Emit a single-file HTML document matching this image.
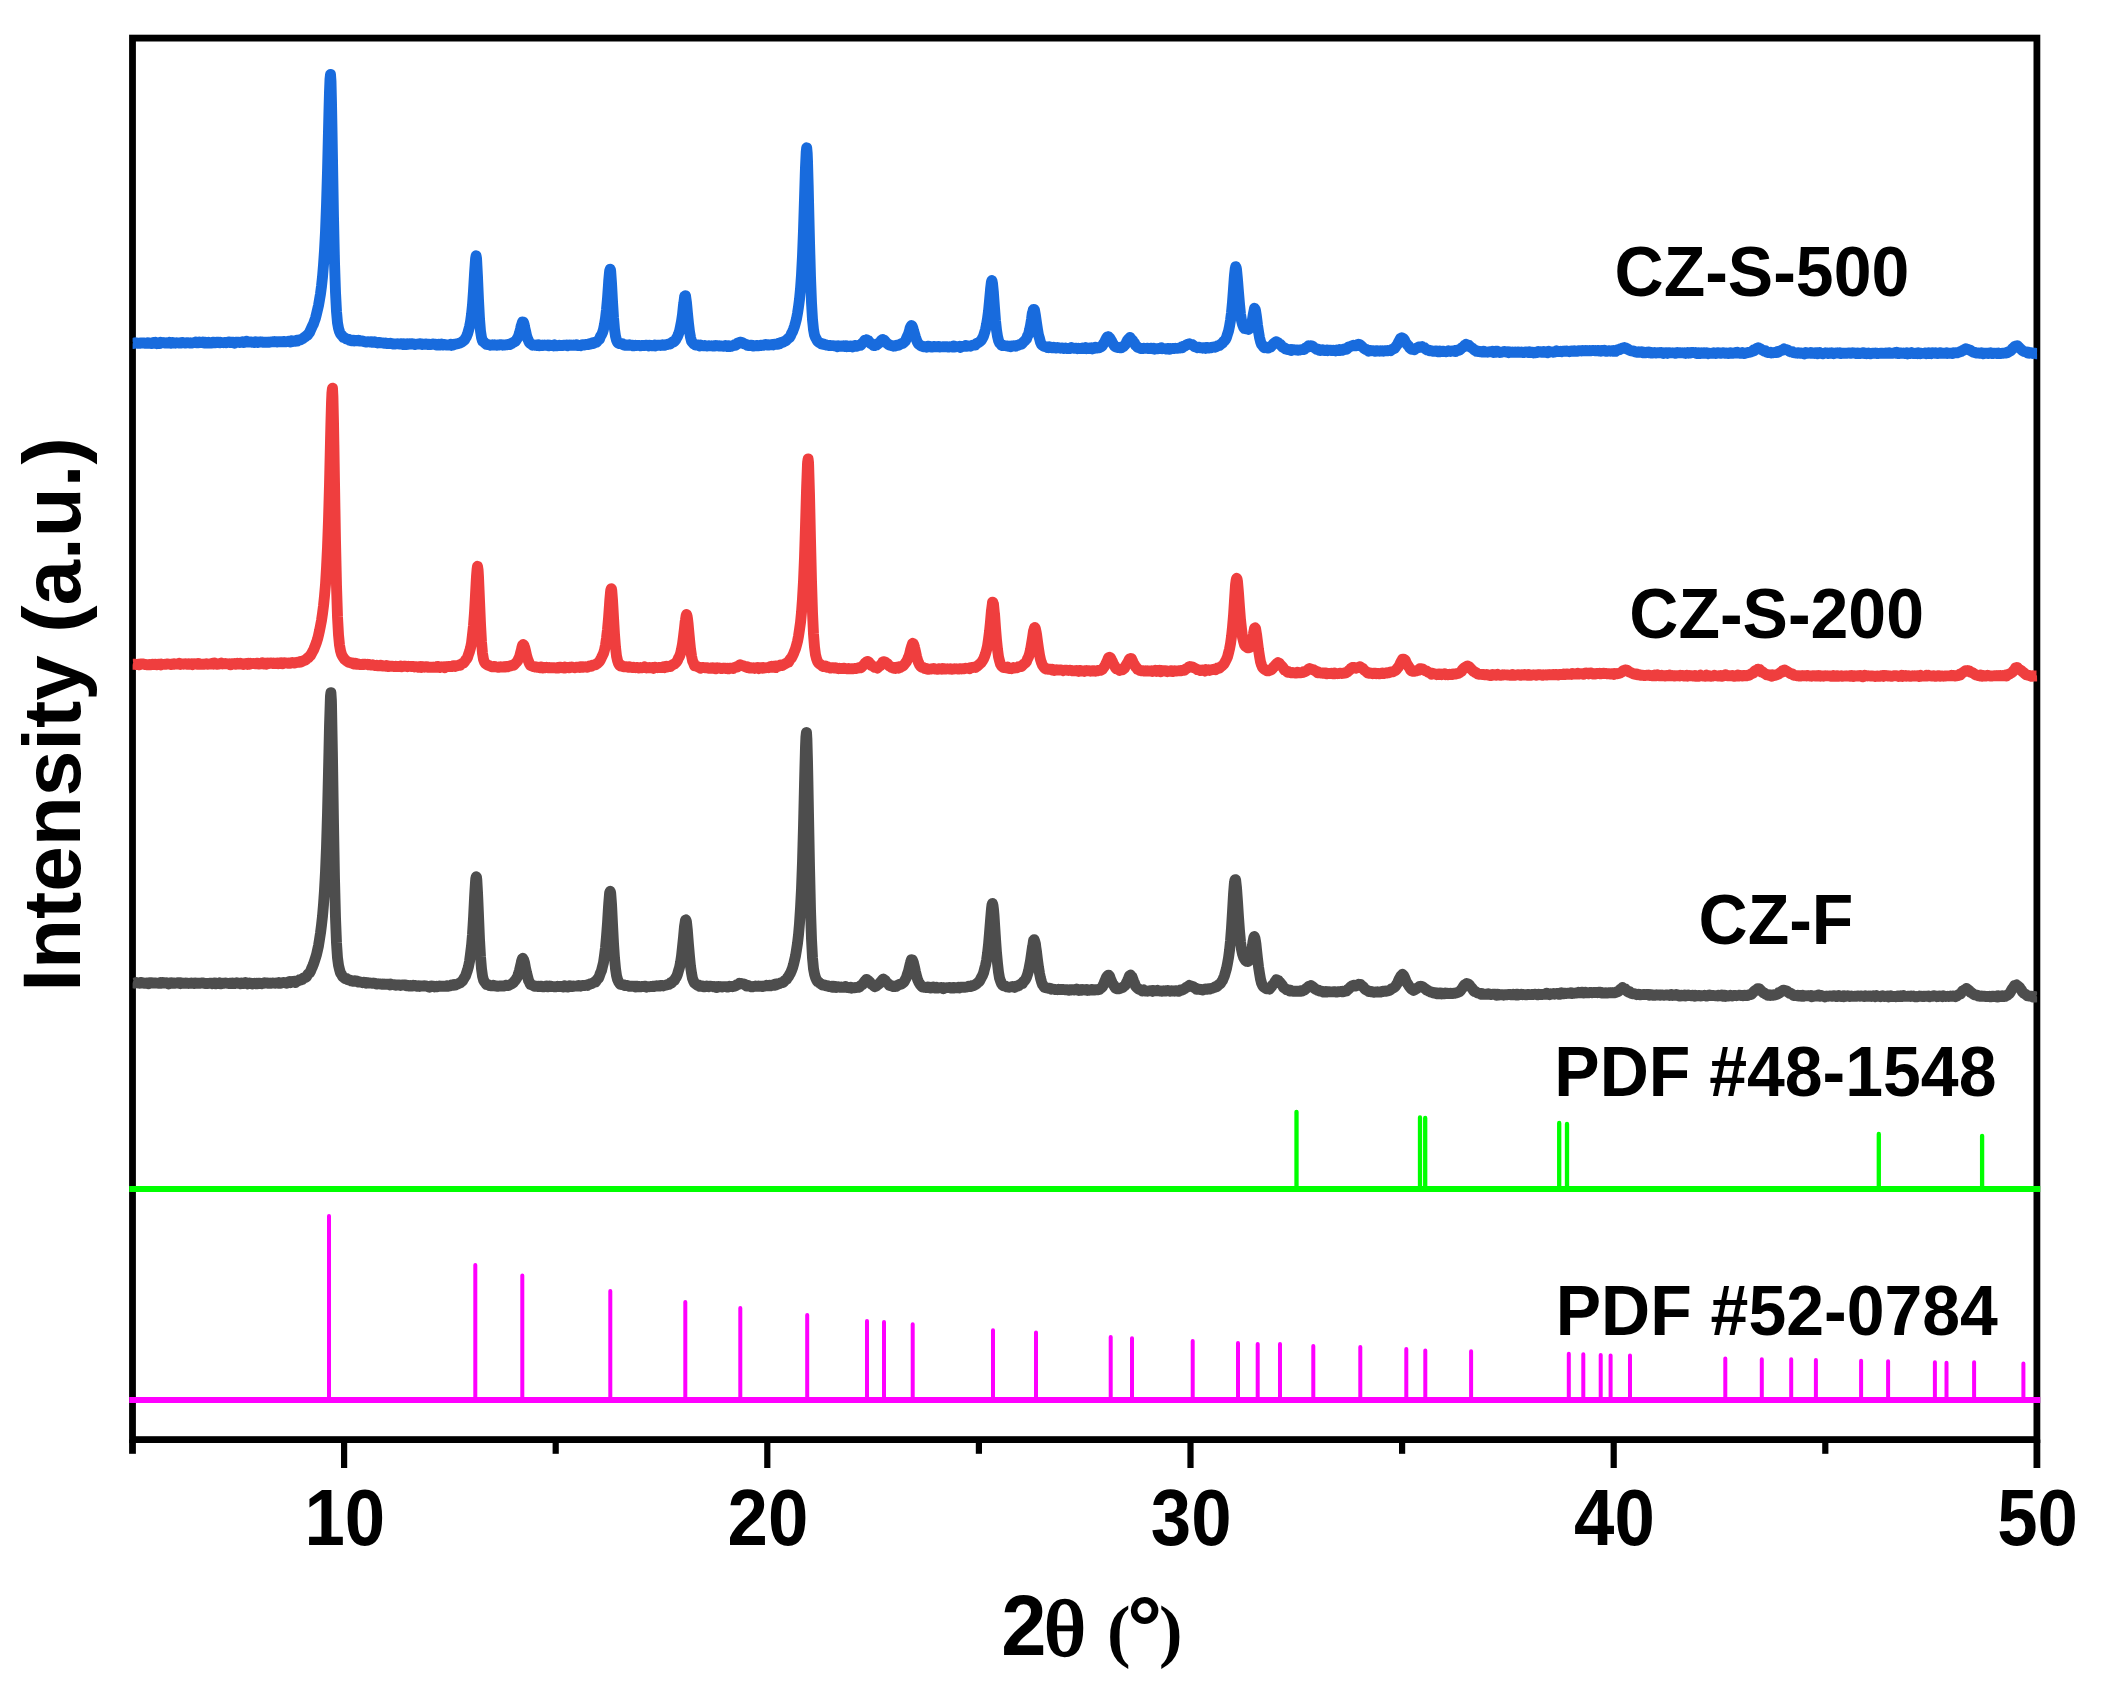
<!DOCTYPE html>
<html lang="en"><head><meta charset="utf-8"><title>XRD patterns</title>
<style>html,body{margin:0;padding:0;background:#fff}svg{display:block}text{font-family:"Liberation Sans",sans-serif;font-weight:bold;fill:#000}.tk{font-size:80px;text-anchor:middle}.lb{font-size:71.2px}.ay{font-size:81.8px}.two{font-size:84.5px}.th{font-family:"Liberation Serif","DejaVu Serif",serif;font-size:78.5px;font-weight:normal;stroke:#000;stroke-width:2.3px;stroke-linejoin:round}.pa{font-family:"Liberation Serif","DejaVu Serif",serif;font-size:70.6px;font-weight:bold}.dg{font-size:87.9px}.sp{font-size:40px}</style></head><body>
<svg width="2101" height="1697" viewBox="0 0 2101 1697" role="img" aria-label="XRD patterns of CZ-S-500, CZ-S-200 and CZ-F with reference PDF cards">
<rect x="0" y="0" width="2101" height="1697" fill="#fff"/>
<g fill="none" stroke="#000" stroke-width="6.8" stroke-linecap="butt">
<rect x="132.5" y="38.1" width="1904.4" height="1401.5"/>
</g>
<g stroke="#000" stroke-width="6.2" stroke-linecap="butt">
<line x1="132.5" y1="1439.6" x2="132.5" y2="1453.8" stroke-width="6.8"/>
<line x1="344.1" y1="1439.6" x2="344.1" y2="1468.0"/>
<line x1="555.7" y1="1439.6" x2="555.7" y2="1453.8"/>
<line x1="767.3" y1="1439.6" x2="767.3" y2="1468.0"/>
<line x1="978.9" y1="1439.6" x2="978.9" y2="1453.8"/>
<line x1="1190.5" y1="1439.6" x2="1190.5" y2="1468.0"/>
<line x1="1402.1" y1="1439.6" x2="1402.1" y2="1453.8"/>
<line x1="1613.7" y1="1439.6" x2="1613.7" y2="1468.0"/>
<line x1="1825.3" y1="1439.6" x2="1825.3" y2="1453.8"/>
<line x1="2036.9" y1="1439.6" x2="2036.9" y2="1468.0" stroke-width="6.8"/>
</g>
<g stroke="#ff00ff" fill="none">
<path d="M329.0 1399.9V1215.9M475.3 1399.9V1264.9M522.3 1399.9V1275.6M610.3 1399.9V1290.9M685.3 1399.9V1301.9M740.3 1399.9V1307.9M807.2 1399.9V1315.1M867.0 1399.9V1320.9M884.0 1399.9V1321.9M912.7 1399.9V1324.3M993.0 1399.9V1330.3M1036.0 1399.9V1332.6M1110.7 1399.9V1336.9M1132.0 1399.9V1338.3M1192.7 1399.9V1340.9M1238.0 1399.9V1342.9M1257.7 1399.9V1343.9M1280.0 1399.9V1343.9M1313.3 1399.9V1345.9M1360.3 1399.9V1346.9M1406.3 1399.9V1348.9M1425.3 1399.9V1350.6M1471.1 1399.9V1351.2M1568.8 1399.9V1353.7M1583.3 1399.9V1354.3M1600.7 1399.9V1354.9M1610.6 1399.9V1355.5M1630.0 1399.9V1355.5M1725.3 1399.9V1358.4M1761.8 1399.9V1359.3M1791.2 1399.9V1359.3M1815.9 1399.9V1360.1M1861.1 1399.9V1360.7M1888.1 1399.9V1361.3M1934.9 1399.9V1362.2M1946.5 1399.9V1362.7M1974.1 1399.9V1362.2M2023.4 1399.9V1363.6" stroke-width="4.0" stroke-linecap="round"/>
<line x1="129.2" y1="1399.9" x2="2040.2" y2="1399.9" stroke-width="6.0"/>
</g>
<g stroke="#00ff00" fill="none">
<path d="M1296.5 1188.9V1111.8M1420.0 1188.9V1117.5M1425.2 1188.9V1118.0M1559.2 1188.9V1123.0M1567.0 1188.9V1124.0M1878.8 1188.9V1134.0M1982.1 1188.9V1135.8" stroke-width="4.3" stroke-linecap="round"/>
<line x1="129.2" y1="1188.9" x2="2040.2" y2="1188.9" stroke-width="6.0"/>
</g>
<defs><clipPath id="cp"><rect x="132.6" y="40" width="1904.5" height="1000"/></clipPath></defs>
<g clip-path="url(#cp)">
<path d="M132.5 982.5L133.5 983.0L134.5 983.2L135.5 982.8L136.5 982.5L137.5 982.9L138.5 983.0L139.5 983.2L140.5 982.5L141.5 982.5L142.5 983.1L143.5 983.1L144.5 983.4L145.5 983.2L146.5 982.9L147.5 982.9L148.5 983.7L149.5 982.9L150.5 982.7L151.5 982.6L152.5 983.0L153.5 983.0L154.5 982.9L155.5 983.0L156.5 983.1L157.5 983.2L158.5 983.3L159.5 983.1L160.5 982.5L161.5 983.2L162.5 982.6L163.5 983.0L164.5 982.6L165.5 983.0L166.5 982.8L167.5 983.1L168.5 984.0L169.5 983.0L170.5 983.3L171.5 982.7L172.5 983.0L173.5 983.3L174.5 983.0L175.5 983.2L176.5 983.1L177.5 982.8L178.5 983.2L179.5 982.8L180.5 983.6L181.5 982.9L182.5 983.3L183.5 983.1L184.5 983.4L185.5 982.9L186.5 983.4L187.5 983.1L188.5 983.5L189.5 983.3L190.5 983.2L191.5 982.9L192.5 983.4L193.5 983.3L194.5 983.6L195.5 983.0L196.5 983.3L197.5 983.3L198.5 983.2L199.5 983.2L200.5 983.2L201.5 983.0L202.5 982.9L203.5 983.1L204.5 983.3L205.5 983.6L206.5 983.5L207.5 983.5L208.5 983.4L209.5 983.4L210.5 983.2L211.5 983.4L212.5 983.7L213.5 983.1L214.5 983.0L215.5 983.8L216.5 983.3L217.5 983.5L218.5 983.5L219.5 982.9L220.5 983.9L221.5 983.7L222.5 983.3L223.5 983.4L224.5 983.2L225.5 982.9L226.5 983.2L227.5 983.3L228.5 983.5L229.5 983.4L230.5 983.2L231.5 983.6L232.5 983.0L233.5 983.5L234.5 983.6L235.5 983.1L236.5 982.7L237.5 983.0L238.5 983.3L239.5 983.4L240.5 983.7L241.5 983.0L242.5 983.3L243.5 983.5L244.5 983.2L245.5 982.6L246.5 983.5L247.5 984.0L248.5 983.6L249.5 983.0L250.5 983.2L251.5 983.3L252.5 984.0L253.5 983.5L254.5 983.3L255.5 983.7L256.5 983.2L257.5 983.8L258.5 983.1L259.5 983.1L260.5 983.5L261.5 983.7L262.5 983.4L263.5 983.3L264.5 982.7L265.5 983.0L266.5 983.0L267.5 983.0L268.5 983.4L269.5 983.1L270.5 983.4L271.5 983.2L272.5 983.0L273.5 983.1L274.5 983.2L275.5 983.3L276.5 982.9L277.5 982.9L278.5 982.6L279.5 983.4L280.5 983.3L281.5 982.8L282.5 982.7L283.5 982.4L284.5 982.8L285.5 982.7L286.5 983.2L287.5 982.5L288.5 982.1L289.5 981.5L290.5 982.6L291.5 982.1L292.5 981.4L293.5 981.8L294.5 981.1L295.5 982.5L296.5 981.5L297.5 981.1L298.5 980.7L299.5 979.8L300.5 980.0L301.5 979.2L302.5 979.4L303.5 978.0L304.5 977.7L305.5 977.6L306.5 976.8L307.5 974.9L308.5 973.6L309.5 972.9L310.5 971.2L311.5 968.7L312.5 966.6L313.5 964.0L314.5 961.0L315.5 957.8L316.5 954.6L317.5 950.2L318.5 945.7L319.5 939.5L320.5 933.0L321.5 925.1L322.5 916.1L323.5 904.5L324.5 890.0L325.5 871.9L326.5 847.2L327.5 813.7L328.5 771.7L329.4 730.7L329.5 726.1L330.4 697.8L330.5 695.9L330.9 692.6L331.4 700.4L331.5 703.8L332.4 752.0L332.5 758.5L333.5 823.2L334.5 878.6L335.5 917.7L336.5 943.0L337.5 957.8L338.5 965.3L339.5 969.5L340.5 973.0L341.5 974.4L342.5 976.4L343.5 977.2L344.5 978.2L345.5 978.8L346.5 978.5L347.5 979.8L348.5 979.7L349.5 980.0L350.5 980.4L351.5 981.0L352.5 981.2L353.5 981.4L354.5 980.8L355.5 981.3L356.5 980.9L357.5 981.7L358.5 982.1L359.5 981.8L360.5 982.2L361.5 982.3L362.5 982.7L363.5 982.2L364.5 982.3L365.5 982.4L366.5 983.2L367.5 983.1L368.5 982.8L369.5 983.0L370.5 983.1L371.5 983.2L372.5 983.2L373.5 983.3L374.5 983.1L375.5 983.4L376.5 984.1L377.5 983.9L378.5 983.8L379.5 983.9L380.5 984.0L381.5 984.2L382.5 984.0L383.5 984.3L384.5 984.4L385.5 984.2L386.5 984.2L387.5 984.2L388.5 984.2L389.5 984.9L390.5 984.0L391.5 984.7L392.5 984.6L393.5 984.7L394.5 984.9L395.5 985.3L396.5 985.0L397.5 985.0L398.5 984.9L399.5 985.1L400.5 985.5L401.5 985.1L402.5 985.0L403.5 985.0L404.5 985.1L405.5 985.0L406.5 985.8L407.5 985.6L408.5 985.5L409.5 986.1L410.5 985.5L411.5 985.9L412.5 986.0L413.5 985.3L414.5 985.4L415.5 985.6L416.5 986.2L417.5 986.4L418.5 985.7L419.5 986.4L420.5 986.0L421.5 986.0L422.5 986.0L423.5 986.1L424.5 985.7L425.5 986.0L426.5 986.0L427.5 986.5L428.5 987.0L429.5 987.2L430.5 986.3L431.5 985.9L432.5 986.3L433.5 986.1L434.5 987.0L435.5 986.6L436.5 986.2L437.5 986.7L438.5 986.5L439.5 985.9L440.5 986.2L441.5 986.3L442.5 986.3L443.5 986.3L444.5 986.1L445.5 986.2L446.5 985.9L447.5 985.7L448.5 986.3L449.5 985.9L450.5 985.8L451.5 985.0L452.5 985.3L453.5 985.4L454.5 984.5L455.5 985.0L456.5 984.3L457.5 984.2L458.5 983.6L459.5 983.1L460.5 982.8L461.5 981.5L462.5 981.1L463.5 979.1L464.5 977.5L465.5 976.0L466.5 973.0L467.5 970.1L468.5 966.5L469.5 961.5L470.5 954.0L471.5 945.9L472.5 934.4L473.5 918.3L474.5 898.9L474.8 893.1L475.5 882.0L475.8 878.6L476.3 876.7L476.5 877.2L476.8 879.6L477.5 892.0L477.8 898.4L478.5 915.3L479.5 939.2L480.5 956.6L481.5 968.8L482.5 976.1L483.5 980.0L484.5 981.8L485.5 983.2L486.5 984.6L487.5 984.3L488.5 984.8L489.5 985.5L490.5 985.6L491.5 985.8L492.5 985.9L493.5 985.2L494.5 985.6L495.5 986.0L496.5 986.1L497.5 986.4L498.5 986.2L499.5 985.9L500.5 986.0L501.5 985.9L502.5 986.0L503.5 986.1L504.5 985.7L505.5 985.4L506.5 985.2L507.5 985.6L508.5 985.4L509.5 985.0L510.5 984.5L511.5 984.0L512.5 983.2L513.5 982.6L514.5 981.1L515.5 980.1L516.5 978.4L517.5 976.8L518.5 973.7L519.5 970.3L520.5 966.1L521.3 962.7L521.5 961.3L522.3 958.8L522.5 959.0L522.8 958.3L523.3 959.2L523.5 959.3L524.3 962.1L524.5 962.5L525.5 968.0L526.5 972.4L527.5 976.3L528.5 980.4L529.5 982.3L530.5 984.7L531.5 984.8L532.5 985.2L533.5 985.7L534.5 986.4L535.5 986.1L536.5 986.3L537.5 986.5L538.5 986.1L539.5 986.5L540.5 986.3L541.5 986.1L542.5 986.8L543.5 986.8L544.5 986.6L545.5 986.3L546.5 986.0L547.5 986.8L548.5 986.6L549.5 986.1L550.5 986.6L551.5 986.2L552.5 986.6L553.5 986.7L554.5 986.7L555.5 986.7L556.5 986.7L557.5 986.3L558.5 986.5L559.5 986.4L560.5 986.5L561.5 986.6L562.5 986.7L563.5 987.0L564.5 985.7L565.5 986.6L566.5 986.4L567.5 987.1L568.5 986.7L569.5 985.9L570.5 986.5L571.5 986.2L572.5 986.6L573.5 985.9L574.5 986.2L575.5 986.1L576.5 986.1L577.5 985.9L578.5 985.4L579.5 986.1L580.5 986.2L581.5 985.7L582.5 985.4L583.5 985.6L584.5 985.6L585.5 985.3L586.5 985.1L587.5 985.4L588.5 984.4L589.5 984.3L590.5 983.6L591.5 983.6L592.5 983.2L593.5 982.6L594.5 982.0L595.5 982.0L596.5 980.4L597.5 979.1L598.5 978.3L599.5 975.7L600.5 972.9L601.5 970.6L602.5 966.5L603.5 962.6L604.5 955.5L605.5 947.6L606.5 936.5L607.5 923.1L608.5 906.9L608.7 904.1L609.5 894.2L609.7 892.5L610.2 891.3L610.5 892.1L610.7 893.2L611.5 903.8L611.7 907.4L612.5 923.7L613.5 943.3L614.5 957.8L615.5 968.6L616.5 975.5L617.5 979.4L618.5 981.7L619.5 983.2L620.5 984.4L621.5 984.5L622.5 984.7L623.5 984.7L624.5 985.5L625.5 985.6L626.5 985.4L627.5 985.6L628.5 986.0L629.5 986.4L630.5 986.3L631.5 986.3L632.5 986.2L633.5 986.4L634.5 986.3L635.5 987.0L636.5 986.1L637.5 986.3L638.5 986.8L639.5 986.4L640.5 986.9L641.5 986.5L642.5 986.5L643.5 986.4L644.5 986.1L645.5 986.2L646.5 987.1L647.5 986.6L648.5 986.6L649.5 986.7L650.5 986.5L651.5 986.6L652.5 986.2L653.5 986.2L654.5 986.5L655.5 986.1L656.5 985.7L657.5 986.0L658.5 985.8L659.5 986.1L660.5 985.6L661.5 985.4L662.5 985.5L663.5 985.9L664.5 985.3L665.5 985.2L666.5 984.9L667.5 984.7L668.5 984.5L669.5 984.2L670.5 982.8L671.5 983.0L672.5 981.8L673.5 980.7L674.5 980.4L675.5 978.1L676.5 976.9L677.5 974.3L678.5 970.8L679.5 967.5L680.5 962.7L681.5 956.0L682.5 946.9L683.5 937.2L684.3 928.6L684.5 926.4L685.3 921.5L685.5 920.2L685.8 919.8L686.3 921.0L686.5 922.0L687.3 929.5L687.5 932.1L688.5 944.7L689.5 956.3L690.5 966.2L691.5 973.0L692.5 978.4L693.5 981.0L694.5 983.0L695.5 983.8L696.5 984.5L697.5 985.2L698.5 985.0L699.5 986.4L700.5 985.8L701.5 985.9L702.5 985.9L703.5 986.7L704.5 986.7L705.5 986.4L706.5 986.0L707.5 986.3L708.5 986.7L709.5 986.4L710.5 986.2L711.5 986.3L712.5 986.4L713.5 986.7L714.5 986.5L715.5 986.7L716.5 987.5L717.5 987.2L718.5 986.4L719.5 986.8L720.5 986.8L721.5 986.7L722.5 987.0L723.5 986.6L724.5 986.6L725.5 986.6L726.5 986.7L727.5 987.1L728.5 986.9L729.5 986.3L730.5 986.5L731.5 986.4L732.5 986.8L733.5 986.4L734.5 986.4L735.5 985.8L736.5 984.8L737.5 984.9L738.5 984.3L739.0 984.1L739.5 983.4L740.0 983.6L740.5 983.4L741.0 983.4L741.5 983.8L742.0 983.9L742.5 983.8L743.5 983.9L744.5 984.2L745.5 985.2L746.5 986.0L747.5 986.0L748.5 985.5L749.5 986.0L750.5 986.5L751.5 986.9L752.5 986.8L753.5 986.5L754.5 986.4L755.5 986.0L756.5 986.2L757.5 986.2L758.5 986.0L759.5 986.2L760.5 986.1L761.5 986.2L762.5 986.5L763.5 986.2L764.5 986.1L765.5 985.8L766.5 985.3L767.5 985.7L768.5 985.8L769.5 985.2L770.5 985.8L771.5 985.2L772.5 985.2L773.5 984.9L774.5 984.4L775.5 985.2L776.5 984.0L777.5 984.4L778.5 983.7L779.5 983.6L780.5 982.9L781.5 982.6L782.5 982.5L783.5 982.2L784.5 980.7L785.5 980.1L786.5 979.4L787.5 977.7L788.5 976.7L789.5 974.6L790.5 973.0L791.5 970.6L792.5 968.1L793.5 964.6L794.5 960.2L795.5 956.0L796.5 949.8L797.5 943.4L798.5 934.9L799.5 923.4L800.5 908.2L801.5 889.0L802.5 861.9L803.5 826.2L804.5 784.5L804.9 768.3L805.5 746.6L805.9 737.2L806.4 732.5L806.5 732.4L806.9 738.8L807.5 760.8L807.9 780.6L808.5 813.4L809.5 865.8L810.5 909.4L811.5 939.1L812.5 957.9L813.5 968.7L814.5 974.1L815.5 977.5L816.5 979.8L817.5 981.6L818.5 981.7L819.5 983.0L820.5 983.5L821.5 984.4L822.5 985.1L823.5 985.0L824.5 985.0L825.5 985.6L826.5 985.8L827.5 985.6L828.5 986.5L829.5 986.2L830.5 986.7L831.5 986.2L832.5 987.1L833.5 986.4L834.5 987.2L835.5 986.4L836.5 987.5L837.5 987.0L838.5 986.7L839.5 987.1L840.5 987.3L841.5 987.0L842.5 987.2L843.5 987.4L844.5 987.3L845.5 986.5L846.5 987.3L847.5 987.6L848.5 987.5L849.5 987.8L850.5 987.3L851.5 988.2L852.5 987.7L853.5 987.6L854.5 987.8L855.5 987.7L856.5 987.4L857.5 987.1L858.5 987.4L859.5 986.9L860.5 985.6L861.5 985.1L862.5 984.5L863.5 983.0L864.5 981.6L865.3 980.7L865.5 980.4L866.3 980.2L866.5 979.5L866.8 979.5L867.3 979.8L867.5 980.0L868.3 980.6L868.5 981.0L869.5 981.5L870.5 983.2L871.5 984.1L872.5 984.6L873.5 985.6L874.5 986.7L875.5 986.4L876.5 985.9L877.5 984.8L878.5 984.4L879.5 983.3L880.5 982.1L881.5 981.4L881.8 980.6L882.5 979.8L882.8 979.3L883.3 979.1L883.5 979.4L883.8 979.4L884.5 980.8L884.8 980.1L885.5 980.7L886.5 982.4L887.5 983.3L888.5 983.9L889.5 985.5L890.5 985.7L891.5 985.7L892.5 986.4L893.5 986.6L894.5 986.3L895.5 986.5L896.5 986.3L897.5 985.5L898.5 984.8L899.5 984.3L900.5 984.4L901.5 984.1L902.5 983.3L903.5 982.4L904.5 981.2L905.5 979.1L906.5 977.3L907.5 973.8L908.5 971.0L909.5 966.8L910.4 962.9L910.5 962.4L911.4 959.7L911.5 959.9L911.9 960.0L912.4 959.9L912.5 960.3L913.4 962.5L913.5 963.1L914.5 967.0L915.5 971.9L916.5 975.8L917.5 979.4L918.5 981.7L919.5 983.4L920.5 985.0L921.5 986.3L922.5 987.0L923.5 986.8L924.5 987.3L925.5 987.5L926.5 987.5L927.5 987.0L928.5 987.6L929.5 987.3L930.5 988.0L931.5 987.9L932.5 987.9L933.5 987.0L934.5 988.0L935.5 988.0L936.5 987.4L937.5 988.1L938.5 987.9L939.5 987.8L940.5 987.6L941.5 987.5L942.5 987.7L943.5 988.8L944.5 987.9L945.5 987.9L946.5 987.6L947.5 987.6L948.5 987.6L949.5 987.5L950.5 988.0L951.5 987.7L952.5 988.0L953.5 987.4L954.5 988.0L955.5 987.6L956.5 987.8L957.5 987.6L958.5 987.3L959.5 987.9L960.5 987.3L961.5 987.3L962.5 987.1L963.5 987.3L964.5 987.1L965.5 987.2L966.5 987.1L967.5 986.6L968.5 986.3L969.5 986.6L970.5 986.6L971.5 986.3L972.5 985.4L973.5 985.6L974.5 985.1L975.5 984.5L976.5 983.9L977.5 982.9L978.5 982.1L979.5 981.2L980.5 979.3L981.5 977.3L982.5 975.6L983.5 973.1L984.5 969.2L985.5 965.4L986.5 960.5L987.5 953.5L988.5 944.6L989.5 932.9L990.5 920.5L991.0 914.5L991.5 908.6L992.0 904.8L992.5 903.4L993.0 905.5L993.5 909.4L994.0 915.2L994.5 923.1L995.5 938.5L996.5 952.6L997.5 963.3L998.5 972.1L999.5 978.0L1000.5 981.0L1001.5 983.7L1002.5 985.1L1003.5 985.8L1004.5 985.7L1005.5 986.1L1006.5 986.8L1007.5 987.0L1008.5 987.2L1009.5 987.3L1010.5 986.9L1011.5 986.9L1012.5 986.4L1013.5 987.1L1014.5 987.4L1015.5 986.4L1016.5 986.2L1017.5 986.2L1018.5 985.8L1019.5 984.8L1020.5 984.4L1021.5 983.5L1022.5 983.6L1023.5 981.6L1024.5 980.8L1025.5 979.4L1026.5 977.3L1027.5 974.5L1028.5 971.2L1029.5 966.0L1030.5 960.7L1031.5 953.8L1032.5 946.7L1032.7 946.2L1033.5 940.8L1033.7 940.8L1034.2 939.6L1034.5 940.7L1034.7 941.1L1035.5 944.2L1035.7 946.2L1036.5 951.6L1037.5 960.0L1038.5 967.2L1039.5 973.2L1040.5 978.2L1041.5 981.8L1042.5 984.5L1043.5 985.9L1044.5 987.6L1045.5 987.5L1046.5 987.8L1047.5 988.0L1048.5 988.3L1049.5 988.2L1050.5 988.5L1051.5 989.2L1052.5 989.1L1053.5 989.1L1054.5 989.4L1055.5 989.6L1056.5 989.6L1057.5 989.7L1058.5 989.3L1059.5 989.5L1060.5 989.4L1061.5 989.6L1062.5 989.4L1063.5 989.6L1064.5 989.7L1065.5 989.7L1066.5 989.7L1067.5 989.7L1068.5 990.3L1069.5 989.8L1070.5 989.6L1071.5 990.0L1072.5 989.6L1073.5 989.7L1074.5 990.0L1075.5 989.5L1076.5 989.1L1077.5 990.1L1078.5 990.4L1079.5 989.6L1080.5 989.8L1081.5 990.3L1082.5 989.5L1083.5 989.8L1084.5 989.7L1085.5 990.0L1086.5 989.5L1087.5 990.4L1088.5 990.1L1089.5 990.2L1090.5 990.0L1091.5 989.4L1092.5 990.0L1093.5 989.6L1094.5 990.0L1095.5 989.7L1096.5 989.8L1097.5 989.7L1098.5 989.8L1099.5 989.4L1100.5 988.4L1101.5 987.7L1102.5 986.8L1103.5 984.6L1104.5 981.9L1105.5 979.5L1106.5 977.1L1106.6 977.3L1107.5 975.7L1107.6 975.7L1108.1 976.0L1108.5 975.1L1108.6 975.2L1109.5 976.2L1109.6 976.4L1110.5 979.0L1111.5 981.2L1112.5 983.9L1113.5 984.7L1114.5 986.5L1115.5 988.1L1116.5 988.6L1117.5 988.8L1118.5 988.9L1119.5 988.5L1120.5 988.3L1121.5 987.9L1122.5 987.6L1123.5 986.6L1124.5 985.9L1125.5 985.0L1126.5 982.6L1127.5 980.6L1128.5 978.4L1128.9 977.2L1129.5 975.9L1129.9 976.0L1130.4 975.3L1130.5 975.0L1130.9 975.7L1131.5 976.9L1131.9 976.6L1132.5 978.1L1133.5 980.9L1134.5 983.1L1135.5 986.0L1136.5 987.2L1137.5 988.1L1138.5 989.2L1139.5 989.4L1140.5 989.8L1141.5 990.2L1142.5 991.1L1143.5 989.8L1144.5 990.7L1145.5 991.0L1146.5 990.9L1147.5 991.3L1148.5 990.9L1149.5 990.8L1150.5 990.8L1151.5 990.6L1152.5 991.3L1153.5 990.5L1154.5 990.8L1155.5 990.7L1156.5 990.7L1157.5 990.3L1158.5 990.8L1159.5 991.0L1160.5 991.0L1161.5 991.2L1162.5 990.9L1163.5 990.8L1164.5 991.0L1165.5 991.1L1166.5 990.7L1167.5 990.5L1168.5 990.6L1169.5 991.2L1170.5 991.2L1171.5 990.6L1172.5 990.9L1173.5 991.1L1174.5 991.2L1175.5 990.6L1176.5 990.7L1177.5 991.1L1178.5 991.4L1179.5 991.0L1180.5 990.1L1181.5 990.4L1182.5 989.8L1183.5 989.4L1184.5 988.7L1185.5 988.0L1186.5 987.3L1187.5 987.0L1188.1 986.3L1188.5 986.0L1189.1 985.6L1189.5 985.3L1189.6 985.5L1190.1 986.0L1190.5 985.9L1191.1 986.5L1191.5 986.1L1192.5 986.6L1193.5 986.7L1194.5 988.0L1195.5 987.9L1196.5 989.3L1197.5 989.0L1198.5 989.4L1199.5 989.2L1200.5 989.5L1201.5 989.4L1202.5 990.0L1203.5 989.7L1204.5 989.2L1205.5 988.9L1206.5 989.3L1207.5 989.1L1208.5 988.8L1209.5 989.1L1210.5 988.7L1211.5 988.5L1212.5 988.1L1213.5 987.8L1214.5 987.4L1215.5 986.6L1216.5 986.8L1217.5 986.1L1218.5 984.7L1219.5 984.3L1220.5 983.5L1221.5 981.8L1222.5 980.5L1223.5 978.0L1224.5 975.6L1225.5 972.1L1226.5 968.5L1227.5 963.5L1228.5 957.9L1229.5 950.6L1230.5 940.7L1231.5 927.9L1232.5 911.7L1233.5 894.2L1233.6 893.1L1234.5 881.7L1234.6 881.5L1235.1 879.6L1235.5 879.9L1235.6 879.7L1236.5 887.6L1236.6 889.0L1237.5 901.4L1238.5 916.9L1239.5 930.6L1240.5 941.6L1241.5 949.3L1242.5 954.1L1243.5 957.1L1244.5 959.0L1245.5 960.5L1246.5 961.3L1247.5 961.5L1248.5 961.2L1249.5 960.1L1250.5 957.4L1251.5 952.6L1252.5 945.6L1252.9 942.0L1253.5 939.0L1253.9 937.3L1254.4 936.5L1254.5 936.9L1254.9 937.9L1255.5 941.0L1255.9 943.5L1256.5 949.2L1257.5 958.5L1258.5 966.7L1259.5 973.3L1260.5 979.2L1261.5 983.0L1262.5 985.3L1263.5 986.9L1264.5 987.6L1265.5 988.0L1266.5 988.7L1267.5 988.5L1268.5 988.6L1269.5 989.2L1270.5 987.8L1271.5 986.7L1272.5 985.0L1273.5 984.0L1274.5 982.7L1275.5 980.9L1275.7 980.9L1276.5 979.6L1276.7 980.4L1277.2 980.0L1277.5 980.4L1277.7 980.7L1278.5 980.7L1278.7 981.2L1279.5 981.8L1280.5 983.0L1281.5 984.3L1282.5 985.5L1283.5 987.4L1284.5 988.3L1285.5 988.5L1286.5 989.7L1287.5 989.7L1288.5 989.8L1289.5 990.9L1290.5 990.3L1291.5 991.1L1292.5 990.9L1293.5 991.2L1294.5 991.1L1295.5 991.3L1296.5 991.1L1297.5 991.2L1298.5 991.1L1299.5 991.3L1300.5 990.8L1301.5 991.2L1302.5 991.1L1303.5 990.3L1304.5 990.0L1305.5 989.1L1306.5 988.3L1307.5 987.6L1308.5 986.6L1308.9 986.2L1309.5 986.2L1309.9 986.1L1310.4 986.1L1310.5 986.2L1310.9 985.5L1311.5 986.7L1311.9 986.4L1312.5 986.5L1313.5 987.4L1314.5 988.4L1315.5 989.2L1316.5 989.5L1317.5 990.2L1318.5 990.1L1319.5 991.0L1320.5 991.1L1321.5 991.2L1322.5 991.7L1323.5 992.1L1324.5 991.9L1325.5 991.4L1326.5 992.1L1327.5 991.6L1328.5 991.7L1329.5 991.6L1330.5 991.9L1331.5 991.9L1332.5 991.8L1333.5 991.7L1334.5 991.8L1335.5 991.7L1336.5 992.1L1337.5 991.7L1338.5 991.8L1339.5 991.7L1340.5 991.5L1341.5 991.7L1342.5 991.2L1343.5 991.7L1344.5 991.5L1345.5 991.0L1346.5 991.0L1347.5 989.6L1348.5 989.2L1349.5 988.2L1350.5 986.9L1351.0 986.5L1351.5 986.4L1352.0 985.9L1352.5 985.8L1353.0 986.0L1353.5 985.7L1354.0 985.1L1354.5 985.5L1355.5 986.0L1356.5 985.7L1357.5 985.1L1358.5 984.5L1359.0 985.1L1359.5 985.3L1360.0 984.5L1360.5 984.4L1361.0 985.4L1361.5 985.4L1362.0 985.9L1362.5 986.3L1363.5 987.1L1364.5 988.5L1365.5 989.6L1366.5 990.2L1367.5 990.5L1368.5 991.5L1369.5 991.4L1370.5 991.8L1371.5 991.5L1372.5 992.1L1373.5 992.1L1374.5 992.3L1375.5 991.9L1376.5 992.1L1377.5 991.7L1378.5 992.1L1379.5 992.1L1380.5 992.1L1381.5 991.6L1382.5 991.2L1383.5 991.5L1384.5 991.3L1385.5 991.0L1386.5 991.2L1387.5 991.0L1388.5 990.6L1389.5 990.4L1390.5 989.8L1391.5 988.9L1392.5 988.4L1393.5 987.8L1394.5 987.2L1395.5 986.2L1396.5 984.5L1397.5 983.1L1398.5 980.5L1399.5 978.4L1400.5 976.7L1401.5 975.1L1402.0 975.1L1402.5 974.3L1403.5 975.4L1404.5 977.3L1405.5 979.9L1406.5 982.2L1407.5 983.6L1408.5 985.2L1409.5 986.7L1410.5 988.0L1411.5 989.3L1412.5 989.5L1413.5 990.4L1414.5 989.9L1415.5 989.1L1416.5 988.8L1417.5 987.9L1418.5 987.4L1419.4 986.9L1419.5 986.4L1420.4 986.5L1420.5 986.4L1420.9 986.2L1421.4 986.4L1421.5 986.5L1422.4 986.6L1422.5 986.6L1423.5 987.8L1424.5 988.2L1425.5 988.9L1426.5 990.0L1427.5 990.1L1428.5 991.2L1429.5 991.3L1430.5 992.0L1431.5 991.9L1432.5 992.5L1433.5 993.1L1434.5 992.9L1435.5 992.7L1436.5 993.7L1437.5 993.0L1438.5 993.7L1439.5 993.1L1440.5 992.9L1441.5 993.9L1442.5 993.2L1443.5 993.6L1444.5 993.8L1445.5 993.0L1446.5 993.5L1447.5 993.3L1448.5 993.6L1449.5 993.4L1450.5 993.1L1451.5 993.4L1452.5 993.6L1453.5 993.3L1454.5 993.4L1455.5 993.0L1456.5 992.9L1457.5 992.6L1458.5 992.0L1459.5 991.6L1460.5 990.6L1461.5 989.3L1462.5 988.0L1463.5 986.4L1464.5 984.7L1465.3 984.5L1465.5 984.6L1466.3 983.7L1466.5 983.5L1466.8 983.5L1467.3 984.0L1467.5 983.8L1468.3 983.9L1468.5 984.3L1469.5 985.1L1470.5 986.5L1471.5 987.6L1472.5 988.9L1473.5 990.7L1474.5 991.5L1475.5 991.5L1476.5 992.3L1477.5 992.9L1478.5 993.3L1479.5 993.3L1480.5 994.1L1481.5 993.5L1482.5 994.3L1483.5 994.4L1484.5 994.1L1485.5 994.1L1486.5 994.3L1487.5 994.4L1488.5 993.8L1489.5 994.0L1490.5 994.6L1491.5 994.4L1492.5 994.4L1493.5 994.2L1494.5 994.3L1495.5 994.3L1496.5 995.4L1497.5 994.2L1498.5 995.1L1499.5 994.8L1500.5 994.7L1501.5 994.7L1502.5 994.6L1503.5 995.2L1504.5 994.8L1505.5 994.7L1506.5 994.7L1507.5 994.8L1508.5 994.4L1509.5 994.6L1510.5 994.5L1511.5 994.9L1512.5 994.9L1513.5 994.2L1514.5 994.6L1515.5 995.0L1516.5 994.3L1517.5 994.3L1518.5 995.0L1519.5 994.6L1520.5 994.6L1521.5 994.3L1522.5 994.7L1523.5 994.5L1524.5 994.7L1525.5 994.8L1526.5 994.8L1527.5 994.5L1528.5 994.5L1529.5 994.6L1530.5 994.6L1531.5 994.6L1532.5 994.4L1533.5 994.5L1534.5 994.3L1535.5 994.3L1536.5 994.5L1537.5 994.8L1538.5 994.3L1539.5 994.6L1540.5 994.5L1541.5 994.4L1542.5 994.5L1543.5 994.1L1544.5 994.4L1545.5 994.3L1546.5 993.2L1547.5 994.3L1548.5 994.3L1549.5 994.7L1550.5 993.7L1551.5 994.0L1552.5 994.1L1553.5 993.6L1554.5 994.2L1555.5 994.0L1556.5 993.6L1557.5 993.4L1558.5 993.6L1559.5 994.4L1560.5 994.2L1561.5 992.8L1562.5 993.0L1563.5 993.7L1564.5 993.4L1565.5 993.2L1566.5 993.5L1567.5 993.3L1568.5 993.3L1569.5 993.3L1570.5 992.8L1571.5 993.5L1572.5 992.9L1573.5 993.4L1574.5 993.2L1575.5 993.0L1576.5 993.0L1577.5 992.9L1578.5 992.3L1579.5 992.7L1580.5 992.9L1581.5 992.3L1582.5 992.3L1583.5 993.0L1584.5 992.9L1585.5 992.2L1586.5 992.8L1587.5 992.6L1588.5 992.9L1589.5 992.5L1590.5 992.6L1591.5 992.4L1592.5 992.7L1593.5 992.6L1594.5 992.4L1595.5 992.5L1596.5 992.4L1597.5 992.8L1598.5 992.4L1599.5 992.2L1600.5 992.4L1601.5 993.0L1602.5 992.6L1603.5 993.0L1604.5 993.0L1605.5 992.7L1606.5 993.1L1607.5 993.0L1608.5 992.9L1609.5 992.7L1610.5 992.9L1611.5 992.6L1612.5 992.8L1613.5 992.7L1614.5 992.9L1615.5 992.6L1616.5 992.0L1617.5 991.9L1618.5 991.3L1619.5 990.2L1620.5 989.1L1621.5 988.8L1622.5 987.5L1623.0 988.0L1623.5 988.4L1624.5 989.3L1625.5 989.1L1626.5 990.5L1627.5 991.6L1628.5 992.2L1629.5 991.6L1630.5 993.1L1631.5 993.3L1632.5 993.9L1633.5 993.8L1634.5 993.8L1635.5 994.1L1636.5 994.7L1637.5 994.6L1638.5 994.3L1639.5 994.6L1640.5 994.8L1641.5 994.7L1642.5 994.6L1643.5 994.5L1644.5 994.5L1645.5 994.6L1646.5 994.6L1647.5 994.4L1648.5 994.4L1649.5 995.2L1650.5 994.6L1651.5 994.6L1652.5 995.0L1653.5 995.4L1654.5 995.4L1655.5 994.9L1656.5 994.8L1657.5 995.0L1658.5 994.9L1659.5 995.0L1660.5 995.3L1661.5 994.9L1662.5 995.0L1663.5 995.2L1664.5 995.2L1665.5 995.0L1666.5 995.1L1667.5 995.0L1668.5 995.1L1669.5 995.5L1670.5 995.3L1671.5 994.4L1672.5 995.5L1673.5 995.3L1674.5 995.1L1675.5 995.3L1676.5 994.5L1677.5 994.9L1678.5 995.8L1679.5 996.1L1680.5 996.1L1681.5 995.2L1682.5 995.5L1683.5 995.7L1684.5 995.1L1685.5 996.0L1686.5 995.3L1687.5 995.6L1688.5 995.1L1689.5 995.6L1690.5 995.5L1691.5 995.8L1692.5 995.2L1693.5 995.5L1694.5 996.1L1695.5 995.2L1696.5 995.6L1697.5 995.7L1698.5 995.4L1699.5 995.4L1700.5 996.0L1701.5 995.9L1702.5 995.7L1703.5 995.6L1704.5 995.2L1705.5 995.6L1706.5 996.1L1707.5 995.9L1708.5 995.2L1709.5 994.9L1710.5 995.4L1711.5 995.6L1712.5 995.4L1713.5 995.5L1714.5 995.7L1715.5 995.8L1716.5 995.6L1717.5 996.0L1718.5 995.2L1719.5 995.7L1720.5 995.7L1721.5 995.1L1722.5 996.0L1723.5 995.1L1724.5 995.2L1725.5 996.4L1726.5 996.0L1727.5 995.7L1728.5 996.0L1729.5 995.9L1730.5 995.3L1731.5 995.7L1732.5 996.0L1733.5 995.5L1734.5 995.6L1735.5 995.4L1736.5 995.8L1737.5 995.4L1738.5 995.4L1739.5 995.2L1740.5 995.3L1741.5 995.6L1742.5 995.7L1743.5 995.4L1744.5 995.1L1745.5 995.5L1746.5 995.4L1747.5 995.6L1748.5 994.9L1749.5 994.6L1750.5 994.5L1751.5 994.2L1752.5 993.0L1753.5 992.1L1754.5 991.0L1755.5 990.2L1756.4 989.9L1756.5 989.9L1757.4 989.6L1757.5 988.7L1757.9 989.4L1758.4 988.9L1758.5 989.4L1759.4 988.8L1759.5 989.6L1760.5 989.9L1761.5 991.3L1762.5 991.7L1763.5 992.9L1764.5 993.0L1765.5 994.3L1766.5 994.1L1767.5 995.2L1768.5 994.7L1769.5 994.8L1770.5 995.5L1771.5 995.1L1772.5 995.3L1773.5 994.8L1774.5 995.0L1775.5 994.9L1776.5 994.4L1777.5 994.2L1778.5 992.8L1779.5 993.1L1780.5 991.9L1781.5 991.7L1782.5 990.5L1783.5 990.1L1784.0 990.1L1784.5 990.4L1785.5 990.8L1786.5 990.9L1787.5 991.5L1788.5 992.5L1789.5 993.3L1790.5 993.1L1791.5 993.8L1792.5 994.4L1793.5 995.4L1794.5 995.6L1795.5 995.6L1796.5 995.7L1797.5 995.3L1798.5 996.0L1799.5 995.6L1800.5 995.5L1801.5 996.4L1802.5 995.4L1803.5 996.2L1804.5 995.9L1805.5 995.6L1806.5 995.9L1807.5 995.6L1808.5 995.9L1809.5 995.7L1810.5 995.5L1811.5 996.7L1812.5 995.8L1813.5 996.2L1814.5 995.9L1815.5 996.1L1816.5 995.5L1817.5 995.6L1818.5 994.9L1819.5 996.3L1820.5 996.1L1821.5 995.6L1822.5 996.2L1823.5 996.2L1824.5 996.9L1825.5 996.1L1826.5 996.3L1827.5 996.2L1828.5 996.2L1829.5 996.0L1830.5 995.9L1831.5 996.2L1832.5 996.4L1833.5 995.7L1834.5 995.7L1835.5 996.0L1836.5 996.6L1837.5 996.0L1838.5 995.5L1839.5 996.3L1840.5 996.3L1841.5 996.6L1842.5 996.1L1843.5 996.7L1844.5 995.8L1845.5 996.3L1846.5 996.1L1847.5 995.7L1848.5 996.0L1849.5 996.5L1850.5 996.4L1851.5 996.0L1852.5 996.4L1853.5 996.4L1854.5 996.4L1855.5 996.2L1856.5 996.2L1857.5 995.9L1858.5 996.1L1859.5 996.2L1860.5 995.9L1861.5 996.0L1862.5 996.2L1863.5 996.2L1864.5 996.5L1865.5 995.8L1866.5 996.0L1867.5 996.2L1868.5 996.0L1869.5 996.3L1870.5 996.0L1871.5 996.5L1872.5 996.1L1873.5 995.8L1874.5 996.4L1875.5 996.7L1876.5 995.6L1877.5 996.2L1878.5 996.2L1879.5 996.5L1880.5 996.7L1881.5 996.2L1882.5 995.7L1883.5 996.4L1884.5 996.5L1885.5 996.4L1886.5 996.3L1887.5 996.0L1888.5 997.0L1889.5 995.9L1890.5 995.8L1891.5 996.5L1892.5 996.3L1893.5 996.5L1894.5 996.4L1895.5 996.8L1896.5 996.7L1897.5 996.1L1898.5 996.6L1899.5 995.9L1900.5 995.8L1901.5 996.6L1902.5 996.2L1903.5 995.6L1904.5 996.3L1905.5 996.1L1906.5 996.4L1907.5 996.3L1908.5 996.1L1909.5 996.1L1910.5 996.5L1911.5 996.0L1912.5 996.4L1913.5 996.0L1914.5 996.5L1915.5 996.9L1916.5 996.5L1917.5 996.7L1918.5 996.5L1919.5 996.0L1920.5 996.2L1921.5 996.4L1922.5 996.5L1923.5 996.2L1924.5 996.5L1925.5 996.1L1926.5 996.4L1927.5 996.3L1928.5 996.0L1929.5 996.7L1930.5 996.4L1931.5 996.4L1932.5 996.3L1933.5 995.7L1934.5 995.9L1935.5 996.1L1936.5 996.7L1937.5 996.2L1938.5 996.5L1939.5 996.0L1940.5 996.1L1941.5 996.2L1942.5 996.7L1943.5 995.8L1944.5 996.3L1945.5 996.5L1946.5 996.4L1947.5 996.3L1948.5 996.5L1949.5 996.4L1950.5 996.0L1951.5 996.4L1952.5 996.0L1953.5 996.0L1954.5 996.5L1955.5 996.7L1956.5 996.2L1957.5 995.5L1958.5 994.7L1959.5 994.1L1960.5 994.0L1961.5 992.6L1962.5 991.0L1963.5 990.9L1964.5 989.7L1965.5 989.4L1966.0 989.1L1966.5 988.4L1967.5 989.2L1968.5 990.0L1969.5 990.9L1970.5 992.3L1971.5 992.5L1972.5 993.5L1973.5 994.2L1974.5 994.8L1975.5 994.9L1976.5 995.2L1977.5 995.1L1978.5 996.1L1979.5 996.1L1980.5 996.3L1981.5 996.0L1982.5 996.3L1983.5 996.1L1984.5 996.1L1985.5 996.5L1986.5 996.6L1987.5 996.6L1988.5 996.4L1989.5 996.3L1990.5 996.8L1991.5 996.8L1992.5 996.2L1993.5 996.1L1994.5 996.5L1995.5 996.5L1996.5 996.1L1997.5 997.1L1998.5 995.7L1999.5 996.1L2000.5 996.4L2001.5 996.6L2002.5 995.7L2003.5 996.0L2004.5 996.5L2005.5 996.3L2006.5 995.5L2007.5 995.1L2008.5 994.1L2009.5 993.6L2010.5 991.9L2011.5 990.1L2012.5 988.6L2013.5 987.4L2014.5 985.5L2014.7 986.0L2015.5 985.4L2015.7 985.2L2016.2 985.0L2016.5 985.2L2016.7 985.0L2017.5 985.6L2017.7 985.6L2018.5 986.6L2019.5 987.3L2020.5 988.8L2021.5 990.1L2022.5 992.0L2023.5 993.0L2024.5 993.6L2025.5 994.3L2026.5 995.0L2027.5 995.9L2028.5 995.9L2029.5 996.1L2030.5 996.1L2031.5 996.3L2032.5 996.9L2033.5 996.3L2034.5 996.4L2035.5 997.1L2036.5 996.8L2036.9 996.3" fill="none" stroke="#4d4d4d" stroke-width="10.9" stroke-linejoin="round" stroke-linecap="butt"/>
<path d="M132.5 663.9L133.5 664.4L134.5 664.2L135.5 664.2L136.5 664.6L137.5 664.3L138.5 664.2L139.5 664.8L140.5 664.1L141.5 663.9L142.5 663.9L143.5 664.1L144.5 664.5L145.5 664.5L146.5 664.6L147.5 664.8L148.5 664.8L149.5 664.5L150.5 664.7L151.5 664.4L152.5 664.1L153.5 664.5L154.5 664.3L155.5 664.2L156.5 664.8L157.5 664.5L158.5 664.1L159.5 664.2L160.5 664.9L161.5 664.1L162.5 664.4L163.5 664.4L164.5 664.3L165.5 664.4L166.5 664.0L167.5 664.0L168.5 664.1L169.5 664.1L170.5 664.4L171.5 664.6L172.5 663.9L173.5 664.3L174.5 663.8L175.5 663.9L176.5 664.0L177.5 664.1L178.5 664.0L179.5 663.3L180.5 664.5L181.5 664.0L182.5 663.9L183.5 664.3L184.5 663.9L185.5 663.6L186.5 664.2L187.5 664.2L188.5 663.8L189.5 664.3L190.5 664.2L191.5 663.7L192.5 664.6L193.5 664.1L194.5 663.7L195.5 664.1L196.5 664.0L197.5 664.3L198.5 663.6L199.5 664.3L200.5 664.3L201.5 664.2L202.5 664.1L203.5 664.4L204.5 664.2L205.5 664.0L206.5 663.7L207.5 664.3L208.5 664.2L209.5 664.0L210.5 663.9L211.5 664.1L212.5 663.1L213.5 664.0L214.5 663.1L215.5 663.9L216.5 664.2L217.5 664.4L218.5 663.7L219.5 664.0L220.5 663.8L221.5 663.1L222.5 664.0L223.5 663.8L224.5 663.8L225.5 663.5L226.5 663.7L227.5 663.8L228.5 664.1L229.5 663.8L230.5 664.8L231.5 663.6L232.5 663.6L233.5 663.7L234.5 663.5L235.5 664.2L236.5 663.9L237.5 663.3L238.5 663.7L239.5 664.1L240.5 663.3L241.5 663.8L242.5 663.6L243.5 664.4L244.5 663.8L245.5 663.6L246.5 663.5L247.5 664.3L248.5 663.5L249.5 664.4L250.5 663.2L251.5 663.6L252.5 663.6L253.5 663.5L254.5 663.6L255.5 663.9L256.5 663.4L257.5 663.2L258.5 664.0L259.5 664.1L260.5 663.4L261.5 663.7L262.5 662.8L263.5 663.9L264.5 663.2L265.5 663.4L266.5 664.2L267.5 663.1L268.5 663.5L269.5 663.2L270.5 662.9L271.5 663.1L272.5 663.5L273.5 663.0L274.5 663.2L275.5 663.6L276.5 663.3L277.5 662.9L278.5 663.7L279.5 663.3L280.5 663.6L281.5 662.9L282.5 663.7L283.5 662.8L284.5 662.7L285.5 663.0L286.5 663.0L287.5 663.2L288.5 662.9L289.5 663.3L290.5 663.4L291.5 662.8L292.5 662.5L293.5 662.7L294.5 663.0L295.5 662.9L296.5 662.4L297.5 662.1L298.5 662.2L299.5 662.3L300.5 661.5L301.5 661.9L302.5 661.2L303.5 660.8L304.5 660.1L305.5 660.2L306.5 659.1L307.5 657.9L308.5 657.7L309.5 656.2L310.5 655.5L311.5 653.7L312.5 651.8L313.5 650.1L314.5 647.7L315.5 645.0L316.5 642.3L317.5 639.2L318.5 635.2L319.5 630.8L320.5 625.7L321.5 620.4L322.5 613.6L323.5 605.9L324.5 596.0L325.5 584.5L326.5 567.8L327.5 547.6L328.5 520.3L329.5 484.3L330.5 440.7L330.9 423.8L331.5 402.6L331.9 393.2L332.4 388.7L332.5 388.2L332.9 396.0L333.5 422.0L333.9 444.7L334.5 482.0L335.5 540.4L336.5 585.4L337.5 616.7L338.5 634.8L339.5 645.1L340.5 650.8L341.5 654.3L342.5 656.2L343.5 657.7L344.5 659.2L345.5 660.0L346.5 661.0L347.5 661.5L348.5 662.3L349.5 662.4L350.5 662.8L351.5 663.1L352.5 663.0L353.5 663.9L354.5 663.5L355.5 663.3L356.5 664.3L357.5 664.3L358.5 664.0L359.5 664.5L360.5 664.6L361.5 664.6L362.5 664.1L363.5 664.5L364.5 664.2L365.5 664.4L366.5 664.4L367.5 664.3L368.5 664.8L369.5 664.5L370.5 665.0L371.5 665.0L372.5 664.8L373.5 665.1L374.5 665.4L375.5 665.6L376.5 665.2L377.5 665.9L378.5 665.6L379.5 665.9L380.5 665.2L381.5 665.3L382.5 666.1L383.5 665.7L384.5 666.0L385.5 666.2L386.5 665.5L387.5 666.1L388.5 666.6L389.5 666.3L390.5 666.1L391.5 666.3L392.5 666.1L393.5 666.4L394.5 666.6L395.5 666.2L396.5 666.5L397.5 666.4L398.5 666.6L399.5 666.6L400.5 666.1L401.5 666.8L402.5 666.7L403.5 666.2L404.5 666.4L405.5 666.1L406.5 666.5L407.5 666.7L408.5 666.3L409.5 666.4L410.5 666.4L411.5 666.5L412.5 666.5L413.5 666.5L414.5 667.0L415.5 666.8L416.5 666.6L417.5 667.2L418.5 666.7L419.5 667.2L420.5 666.6L421.5 667.4L422.5 666.9L423.5 666.7L424.5 667.2L425.5 666.6L426.5 666.7L427.5 667.2L428.5 667.0L429.5 667.2L430.5 667.2L431.5 667.2L432.5 667.2L433.5 667.3L434.5 667.1L435.5 667.4L436.5 667.4L437.5 666.5L438.5 666.5L439.5 667.5L440.5 666.9L441.5 667.1L442.5 667.0L443.5 667.0L444.5 667.6L445.5 666.7L446.5 666.8L447.5 666.8L448.5 666.4L449.5 666.4L450.5 666.5L451.5 666.4L452.5 666.5L453.5 665.6L454.5 665.6L455.5 666.4L456.5 665.7L457.5 665.8L458.5 665.2L459.5 664.8L460.5 665.2L461.5 663.8L462.5 663.3L463.5 663.0L464.5 661.9L465.5 660.2L466.5 659.2L467.5 657.5L468.5 654.4L469.5 651.6L470.5 648.0L471.5 643.1L472.5 634.7L473.5 625.5L474.5 612.4L475.5 594.7L476.1 583.3L476.5 576.4L477.1 569.0L477.5 566.3L477.6 566.8L478.1 570.0L478.5 576.6L479.1 590.5L479.5 599.9L480.5 623.7L481.5 641.9L482.5 653.3L483.5 659.4L484.5 662.1L485.5 663.7L486.5 664.3L487.5 665.1L488.5 665.4L489.5 665.8L490.5 666.1L491.5 666.6L492.5 666.8L493.5 666.6L494.5 666.4L495.5 666.8L496.5 667.0L497.5 667.2L498.5 667.0L499.5 667.2L500.5 666.8L501.5 667.1L502.5 667.1L503.5 666.8L504.5 666.6L505.5 667.1L506.5 666.4L507.5 666.8L508.5 666.3L509.5 666.1L510.5 665.9L511.5 665.5L512.5 665.2L513.5 665.2L514.5 664.5L515.5 663.2L516.5 662.3L517.5 661.1L518.5 658.8L519.5 657.0L520.5 653.1L521.5 649.4L521.8 647.8L522.5 645.4L522.8 644.8L523.3 644.5L523.5 645.1L523.8 645.0L524.5 647.2L524.8 647.8L525.5 650.6L526.5 655.1L527.5 658.7L528.5 661.2L529.5 663.8L530.5 665.5L531.5 666.0L532.5 666.2L533.5 666.6L534.5 666.6L535.5 667.1L536.5 667.0L537.5 667.3L538.5 667.4L539.5 667.8L540.5 667.1L541.5 666.9L542.5 668.0L543.5 667.7L544.5 667.5L545.5 667.7L546.5 667.3L547.5 667.5L548.5 667.8L549.5 667.5L550.5 667.7L551.5 667.8L552.5 667.7L553.5 667.6L554.5 667.8L555.5 668.0L556.5 668.0L557.5 667.4L558.5 667.9L559.5 667.1L560.5 667.2L561.5 667.7L562.5 667.8L563.5 668.0L564.5 667.1L565.5 667.9L566.5 667.4L567.5 667.4L568.5 667.7L569.5 667.9L570.5 667.2L571.5 667.0L572.5 667.3L573.5 667.4L574.5 667.8L575.5 667.5L576.5 667.2L577.5 667.1L578.5 667.1L579.5 667.5L580.5 666.7L581.5 666.9L582.5 666.8L583.5 667.3L584.5 666.9L585.5 666.6L586.5 666.9L587.5 667.2L588.5 666.8L589.5 666.0L590.5 666.1L591.5 666.3L592.5 665.2L593.5 665.1L594.5 664.9L595.5 664.8L596.5 663.8L597.5 663.4L598.5 662.4L599.5 661.5L600.5 659.6L601.5 657.6L602.5 655.4L603.5 653.3L604.5 650.0L605.5 645.1L606.5 638.2L607.5 629.6L608.5 618.6L609.5 604.6L609.8 600.2L610.5 592.4L610.8 590.0L611.3 588.6L611.5 589.1L611.8 590.8L612.5 599.8L612.8 604.9L613.5 617.4L614.5 634.2L615.5 647.1L616.5 656.0L617.5 660.5L618.5 663.5L619.5 665.2L620.5 666.0L621.5 665.3L622.5 666.3L623.5 666.9L624.5 666.6L625.5 666.7L626.5 666.7L627.5 667.0L628.5 667.3L629.5 666.8L630.5 667.4L631.5 667.2L632.5 667.5L633.5 667.3L634.5 667.6L635.5 667.7L636.5 667.5L637.5 667.5L638.5 668.0L639.5 667.9L640.5 667.5L641.5 667.9L642.5 667.4L643.5 667.6L644.5 666.9L645.5 667.6L646.5 668.0L647.5 667.6L648.5 667.9L649.5 667.5L650.5 667.8L651.5 667.7L652.5 667.4L653.5 668.3L654.5 667.4L655.5 667.2L656.5 667.6L657.5 667.7L658.5 667.6L659.5 667.4L660.5 667.6L661.5 667.6L662.5 667.5L663.5 666.8L664.5 667.6L665.5 667.0L666.5 666.3L667.5 667.0L668.5 666.5L669.5 666.4L670.5 666.6L671.5 665.4L672.5 665.0L673.5 664.3L674.5 663.9L675.5 663.1L676.5 661.9L677.5 660.4L678.5 657.9L679.5 656.4L680.5 653.6L681.5 649.2L682.5 643.9L683.5 636.6L684.5 628.2L685.1 622.2L685.5 619.9L686.1 615.8L686.5 614.7L686.6 614.5L687.1 616.2L687.5 618.7L688.1 623.7L688.5 628.2L689.5 639.1L690.5 648.8L691.5 655.8L692.5 660.8L693.5 662.9L694.5 665.8L695.5 665.8L696.5 666.2L697.5 666.6L698.5 667.2L699.5 667.5L700.5 668.2L701.5 667.9L702.5 667.4L703.5 667.6L704.5 667.7L705.5 667.7L706.5 667.9L707.5 667.8L708.5 668.4L709.5 668.2L710.5 668.3L711.5 668.1L712.5 667.8L713.5 668.3L714.5 668.0L715.5 668.8L716.5 668.6L717.5 667.8L718.5 667.9L719.5 668.1L720.5 668.2L721.5 668.6L722.5 668.2L723.5 668.4L724.5 668.1L725.5 668.2L726.5 668.6L727.5 668.2L728.5 668.8L729.5 668.2L730.5 668.3L731.5 668.2L732.5 668.2L733.5 668.5L734.5 667.5L735.5 667.2L736.5 666.6L737.5 666.9L738.5 665.9L739.0 665.7L739.5 665.5L740.0 664.7L740.5 665.4L741.0 665.2L741.5 665.4L742.0 665.5L742.5 665.6L743.5 666.0L744.5 666.3L745.5 666.8L746.5 667.4L747.5 666.9L748.5 667.9L749.5 668.0L750.5 667.6L751.5 668.1L752.5 668.0L753.5 667.8L754.5 668.4L755.5 667.9L756.5 667.8L757.5 667.5L758.5 668.5L759.5 667.8L760.5 667.8L761.5 667.6L762.5 668.3L763.5 667.6L764.5 668.0L765.5 667.8L766.5 667.7L767.5 667.6L768.5 667.7L769.5 667.2L770.5 666.5L771.5 666.3L772.5 667.3L773.5 666.2L774.5 667.1L775.5 667.5L776.5 665.9L777.5 666.5L778.5 666.2L779.5 665.7L780.5 665.0L781.5 665.3L782.5 665.5L783.5 664.6L784.5 664.2L785.5 663.7L786.5 663.1L787.5 662.4L788.5 662.2L789.5 660.2L790.5 658.7L791.5 658.0L792.5 655.9L793.5 653.9L794.5 651.2L795.5 648.7L796.5 645.2L797.5 641.4L798.5 636.2L799.5 629.7L800.5 622.6L801.5 612.4L802.5 598.6L803.5 581.2L804.5 557.5L805.5 526.1L806.5 491.1L806.6 488.0L807.5 463.9L807.6 462.3L808.1 459.0L808.5 462.1L808.6 463.8L809.5 494.0L809.6 498.3L810.5 539.3L811.5 580.9L812.5 612.5L813.5 634.1L814.5 647.0L815.5 654.7L816.5 658.6L817.5 661.4L818.5 662.9L819.5 663.9L820.5 664.5L821.5 665.2L822.5 666.1L823.5 666.6L824.5 666.2L825.5 665.9L826.5 667.1L827.5 666.7L828.5 667.4L829.5 667.6L830.5 668.1L831.5 667.7L832.5 667.8L833.5 667.8L834.5 668.1L835.5 667.8L836.5 668.4L837.5 668.3L838.5 668.7L839.5 668.3L840.5 668.5L841.5 668.5L842.5 668.5L843.5 668.2L844.5 668.4L845.5 668.6L846.5 668.7L847.5 668.9L848.5 668.4L849.5 668.7L850.5 668.8L851.5 668.9L852.5 668.7L853.5 668.7L854.5 668.5L855.5 668.6L856.5 668.5L857.5 668.0L858.5 668.1L859.5 667.4L860.5 667.8L861.5 667.3L862.5 666.1L863.5 665.1L864.5 663.9L865.5 662.6L865.6 663.0L866.5 661.9L866.6 662.0L867.1 661.8L867.5 662.4L867.6 661.4L868.5 662.4L868.6 662.0L869.5 663.0L870.5 664.0L871.5 665.6L872.5 665.9L873.5 666.6L874.5 667.3L875.5 667.4L876.5 667.4L877.5 668.0L878.5 666.8L879.5 666.0L880.5 665.6L881.5 664.0L882.5 663.1L882.8 662.0L883.5 661.8L883.8 661.9L884.3 661.7L884.5 661.9L884.8 662.1L885.5 662.3L885.8 662.6L886.5 663.2L887.5 663.7L888.5 665.1L889.5 666.3L890.5 666.4L891.5 667.4L892.5 667.8L893.5 668.2L894.5 667.4L895.5 668.5L896.5 667.3L897.5 667.6L898.5 668.1L899.5 666.7L900.5 667.4L901.5 666.4L902.5 666.3L903.5 665.5L904.5 664.2L905.5 662.9L906.5 661.6L907.5 659.5L908.5 657.1L909.5 654.5L910.5 650.1L911.4 647.0L911.5 646.5L912.4 644.0L912.5 643.6L912.9 643.3L913.4 644.3L913.5 643.9L914.4 646.6L914.5 647.1L915.5 651.5L916.5 656.2L917.5 659.9L918.5 662.6L919.5 664.8L920.5 666.3L921.5 667.0L922.5 667.6L923.5 667.5L924.5 668.5L925.5 668.3L926.5 668.7L927.5 669.3L928.5 669.0L929.5 669.2L930.5 669.1L931.5 668.7L932.5 668.7L933.5 668.5L934.5 668.8L935.5 669.1L936.5 669.2L937.5 669.2L938.5 668.9L939.5 668.7L940.5 669.1L941.5 669.2L942.5 668.5L943.5 669.1L944.5 668.6L945.5 668.9L946.5 669.0L947.5 668.8L948.5 668.9L949.5 669.0L950.5 668.7L951.5 669.2L952.5 669.2L953.5 669.1L954.5 668.6L955.5 668.9L956.5 668.8L957.5 668.9L958.5 669.1L959.5 668.6L960.5 668.8L961.5 669.0L962.5 668.6L963.5 668.8L964.5 668.6L965.5 668.1L966.5 668.4L967.5 668.4L968.5 668.1L969.5 668.7L970.5 667.9L971.5 667.4L972.5 667.6L973.5 667.3L974.5 667.3L975.5 667.5L976.5 666.4L977.5 666.1L978.5 665.0L979.5 664.2L980.5 663.3L981.5 662.3L982.5 660.8L983.5 659.1L984.5 656.7L985.5 653.7L986.5 650.2L987.5 646.0L988.5 639.2L989.5 631.5L990.5 621.5L991.4 610.9L991.5 610.4L992.4 603.5L992.5 602.1L992.9 602.4L993.4 603.7L993.5 603.9L994.4 613.4L994.5 613.5L995.5 627.7L996.5 639.7L997.5 649.3L998.5 656.7L999.5 660.8L1000.5 664.2L1001.5 665.8L1002.5 666.9L1003.5 667.5L1004.5 667.2L1005.5 667.8L1006.5 667.7L1007.5 667.1L1008.5 668.4L1009.5 668.5L1010.5 668.3L1011.5 668.7L1012.5 668.2L1013.5 667.6L1014.5 668.0L1015.5 667.9L1016.5 667.9L1017.5 667.5L1018.5 666.7L1019.5 666.7L1020.5 666.6L1021.5 666.5L1022.5 665.3L1023.5 664.3L1024.5 663.6L1025.5 662.9L1026.5 661.5L1027.5 658.9L1028.5 657.0L1029.5 654.0L1030.5 649.8L1031.5 643.9L1032.5 637.9L1033.3 632.4L1033.5 631.2L1034.3 628.6L1034.5 627.6L1034.8 627.5L1035.3 628.4L1035.5 629.1L1036.3 632.9L1036.5 634.0L1037.5 641.5L1038.5 648.5L1039.5 654.9L1040.5 659.7L1041.5 662.8L1042.5 665.3L1043.5 666.6L1044.5 667.9L1045.5 668.7L1046.5 669.1L1047.5 669.2L1048.5 669.0L1049.5 669.4L1050.5 669.2L1051.5 669.9L1052.5 669.3L1053.5 669.7L1054.5 670.5L1055.5 670.1L1056.5 669.8L1057.5 670.1L1058.5 669.9L1059.5 670.0L1060.5 670.1L1061.5 670.0L1062.5 670.4L1063.5 670.7L1064.5 670.1L1065.5 670.1L1066.5 670.2L1067.5 670.3L1068.5 670.5L1069.5 670.3L1070.5 670.3L1071.5 670.4L1072.5 670.9L1073.5 670.9L1074.5 670.9L1075.5 670.7L1076.5 670.4L1077.5 671.1L1078.5 671.4L1079.5 670.5L1080.5 670.5L1081.5 671.1L1082.5 670.9L1083.5 670.9L1084.5 671.4L1085.5 670.7L1086.5 670.5L1087.5 670.7L1088.5 670.9L1089.5 670.8L1090.5 671.2L1091.5 671.0L1092.5 670.6L1093.5 671.0L1094.5 670.7L1095.5 671.2L1096.5 671.0L1097.5 670.5L1098.5 670.7L1099.5 670.1L1100.5 670.4L1101.5 669.9L1102.5 669.3L1103.5 667.8L1104.5 666.4L1105.5 664.6L1106.5 662.4L1107.5 660.3L1108.1 658.7L1108.5 657.7L1109.1 657.5L1109.5 657.7L1109.6 657.7L1110.1 657.3L1110.5 658.2L1111.1 658.9L1111.5 659.8L1112.5 661.7L1113.5 664.2L1114.5 665.6L1115.5 668.0L1116.5 668.9L1117.5 669.0L1118.5 669.3L1119.5 670.3L1120.5 669.6L1121.5 669.7L1122.5 669.8L1123.5 669.0L1124.5 668.1L1125.5 666.0L1126.5 664.5L1127.5 662.8L1128.5 661.2L1128.9 660.0L1129.5 659.1L1129.9 658.7L1130.4 658.9L1130.5 658.7L1130.9 658.4L1131.5 658.7L1131.9 659.8L1132.5 660.8L1133.5 663.5L1134.5 664.6L1135.5 666.9L1136.5 667.5L1137.5 669.4L1138.5 669.5L1139.5 670.3L1140.5 670.5L1141.5 670.8L1142.5 670.8L1143.5 670.6L1144.5 671.1L1145.5 670.7L1146.5 671.0L1147.5 670.8L1148.5 671.0L1149.5 671.0L1150.5 671.0L1151.5 670.8L1152.5 671.5L1153.5 671.0L1154.5 671.1L1155.5 670.4L1156.5 671.3L1157.5 670.6L1158.5 671.1L1159.5 670.5L1160.5 671.7L1161.5 670.6L1162.5 671.0L1163.5 670.7L1164.5 670.7L1165.5 670.6L1166.5 671.5L1167.5 671.7L1168.5 671.1L1169.5 671.3L1170.5 670.9L1171.5 670.7L1172.5 671.6L1173.5 671.2L1174.5 670.7L1175.5 671.0L1176.5 671.0L1177.5 670.9L1178.5 670.9L1179.5 670.7L1180.5 670.8L1181.5 670.6L1182.5 670.4L1183.5 670.0L1184.5 670.3L1185.5 669.2L1186.5 668.7L1187.5 668.1L1188.5 667.4L1188.9 666.8L1189.5 667.2L1189.9 666.5L1190.4 666.6L1190.5 666.9L1190.9 666.7L1191.5 666.7L1191.9 667.1L1192.5 667.0L1193.5 667.6L1194.5 668.0L1195.5 668.5L1196.5 669.0L1197.5 669.7L1198.5 669.8L1199.5 670.1L1200.5 670.6L1201.5 670.3L1202.5 669.9L1203.5 670.5L1204.5 671.0L1205.5 669.5L1206.5 670.3L1207.5 670.0L1208.5 669.8L1209.5 670.4L1210.5 670.0L1211.5 669.9L1212.5 669.4L1213.5 669.5L1214.5 669.1L1215.5 669.7L1216.5 668.9L1217.5 668.0L1218.5 668.1L1219.5 668.2L1220.5 666.9L1221.5 666.3L1222.5 665.5L1223.5 664.5L1224.5 663.1L1225.5 661.1L1226.5 659.1L1227.5 656.8L1228.5 653.0L1229.5 649.0L1230.5 643.8L1231.5 636.6L1232.5 627.0L1233.5 615.6L1234.5 600.3L1235.1 591.1L1235.5 585.0L1236.1 580.5L1236.5 578.7L1236.6 578.3L1237.1 579.3L1237.5 581.5L1238.1 588.3L1238.5 592.9L1239.5 606.8L1240.5 619.6L1241.5 628.9L1242.5 637.2L1243.5 641.3L1244.5 644.9L1245.5 646.3L1246.5 646.9L1247.5 647.8L1248.5 647.9L1249.5 647.6L1250.5 646.6L1251.5 644.4L1252.5 639.8L1253.5 633.8L1253.6 633.1L1254.5 628.4L1254.6 628.1L1255.1 627.8L1255.5 628.3L1255.6 628.7L1256.5 634.1L1256.6 634.7L1257.5 641.7L1258.5 649.7L1259.5 656.2L1260.5 661.9L1261.5 665.0L1262.5 667.4L1263.5 668.5L1264.5 669.5L1265.5 669.8L1266.5 670.6L1267.5 670.8L1268.5 670.8L1269.5 670.3L1270.5 670.1L1271.5 669.6L1272.5 668.5L1273.5 666.9L1274.5 666.7L1275.5 664.9L1276.5 663.8L1277.5 663.1L1278.0 662.6L1278.5 662.9L1279.5 663.4L1280.5 664.9L1281.5 665.8L1282.5 666.8L1283.5 668.3L1284.5 670.1L1285.5 670.2L1286.5 671.1L1287.5 672.1L1288.5 671.6L1289.5 672.3L1290.5 672.7L1291.5 672.7L1292.5 672.4L1293.5 672.7L1294.5 672.8L1295.5 673.1L1296.5 673.1L1297.5 672.3L1298.5 672.9L1299.5 672.6L1300.5 672.9L1301.5 672.6L1302.5 672.6L1303.5 671.7L1304.5 671.8L1305.5 671.3L1306.5 670.8L1307.5 670.2L1308.5 669.1L1309.5 668.6L1310.0 669.1L1310.5 668.9L1311.5 669.2L1312.5 669.7L1313.5 669.7L1314.5 670.5L1315.5 671.1L1316.5 671.5L1317.5 672.7L1318.5 672.1L1319.5 672.8L1320.5 673.0L1321.5 672.9L1322.5 673.3L1323.5 673.0L1324.5 672.9L1325.5 673.0L1326.5 673.8L1327.5 673.3L1328.5 673.4L1329.5 673.6L1330.5 673.5L1331.5 673.2L1332.5 673.7L1333.5 673.7L1334.5 673.0L1335.5 673.7L1336.5 673.6L1337.5 673.7L1338.5 673.6L1339.5 673.3L1340.5 673.1L1341.5 673.5L1342.5 673.4L1343.5 673.3L1344.5 672.8L1345.5 673.1L1346.5 672.5L1347.5 672.0L1348.5 670.7L1349.5 670.2L1350.5 669.3L1351.0 668.3L1351.5 668.1L1352.0 668.1L1352.5 667.4L1353.0 667.8L1353.5 667.8L1354.0 667.4L1354.5 668.0L1355.5 667.9L1356.5 668.2L1357.5 667.6L1358.5 667.2L1359.0 667.2L1359.5 667.3L1360.0 666.6L1360.5 667.1L1361.0 667.6L1361.5 667.9L1362.0 668.2L1362.5 668.1L1363.5 669.3L1364.5 670.4L1365.5 671.1L1366.5 671.8L1367.5 672.9L1368.5 673.3L1369.5 672.9L1370.5 672.9L1371.5 673.4L1372.5 673.8L1373.5 673.2L1374.5 673.2L1375.5 673.1L1376.5 673.8L1377.5 673.4L1378.5 673.5L1379.5 673.9L1380.5 673.6L1381.5 673.3L1382.5 673.0L1383.5 673.6L1384.5 673.2L1385.5 673.0L1386.5 673.1L1387.5 672.6L1388.5 672.8L1389.5 672.5L1390.5 671.9L1391.5 672.0L1392.5 671.8L1393.5 671.6L1394.5 670.9L1395.5 670.6L1396.5 669.4L1397.5 668.1L1398.5 666.9L1399.5 665.1L1400.5 662.9L1401.5 661.0L1401.8 660.6L1402.5 659.2L1402.8 659.2L1403.3 659.2L1403.5 659.6L1403.8 659.2L1404.5 659.7L1404.8 659.9L1405.5 660.7L1406.5 663.2L1407.5 664.8L1408.5 666.5L1409.5 667.9L1410.5 670.0L1411.5 670.9L1412.5 671.3L1413.5 671.4L1414.5 671.3L1415.5 670.8L1416.5 670.8L1417.5 670.3L1418.5 670.3L1419.5 669.3L1419.9 668.7L1420.5 669.4L1420.9 669.1L1421.4 668.8L1421.5 669.0L1421.9 669.1L1422.5 669.0L1422.9 669.0L1423.5 669.6L1424.5 670.3L1425.5 670.9L1426.5 671.0L1427.5 671.6L1428.5 672.4L1429.5 672.7L1430.5 673.2L1431.5 674.1L1432.5 673.2L1433.5 673.8L1434.5 673.7L1435.5 674.1L1436.5 674.7L1437.5 674.3L1438.5 674.6L1439.5 673.9L1440.5 674.3L1441.5 674.7L1442.5 674.2L1443.5 674.1L1444.5 673.8L1445.5 674.7L1446.5 674.3L1447.5 674.7L1448.5 674.4L1449.5 674.3L1450.5 674.5L1451.5 674.3L1452.5 674.6L1453.5 674.0L1454.5 674.0L1455.5 674.0L1456.5 673.7L1457.5 673.5L1458.5 673.4L1459.5 672.7L1460.5 671.9L1461.5 671.5L1462.5 669.5L1463.5 668.6L1464.5 667.6L1465.5 667.1L1465.6 666.9L1466.5 666.4L1466.6 666.6L1467.1 666.1L1467.5 665.9L1467.6 666.6L1468.5 667.0L1468.6 666.3L1469.5 667.1L1470.5 668.2L1471.5 669.4L1472.5 670.3L1473.5 671.5L1474.5 671.6L1475.5 672.6L1476.5 672.8L1477.5 673.9L1478.5 674.3L1479.5 674.3L1480.5 674.4L1481.5 674.4L1482.5 674.5L1483.5 674.4L1484.5 674.8L1485.5 674.9L1486.5 674.5L1487.5 674.8L1488.5 675.2L1489.5 675.2L1490.5 675.5L1491.5 675.6L1492.5 674.4L1493.5 674.7L1494.5 674.7L1495.5 675.0L1496.5 675.3L1497.5 674.4L1498.5 675.1L1499.5 675.0L1500.5 675.3L1501.5 675.1L1502.5 674.7L1503.5 675.0L1504.5 674.8L1505.5 674.9L1506.5 674.9L1507.5 675.0L1508.5 675.1L1509.5 675.1L1510.5 675.3L1511.5 675.2L1512.5 674.5L1513.5 675.2L1514.5 674.9L1515.5 675.3L1516.5 674.9L1517.5 674.8L1518.5 674.6L1519.5 675.0L1520.5 675.3L1521.5 674.8L1522.5 675.1L1523.5 674.9L1524.5 674.4L1525.5 675.0L1526.5 674.9L1527.5 675.2L1528.5 674.5L1529.5 675.2L1530.5 675.0L1531.5 675.3L1532.5 674.9L1533.5 674.8L1534.5 674.9L1535.5 675.0L1536.5 675.3L1537.5 674.7L1538.5 674.9L1539.5 674.6L1540.5 674.8L1541.5 675.0L1542.5 675.3L1543.5 674.8L1544.5 674.9L1545.5 674.8L1546.5 675.1L1547.5 674.7L1548.5 674.7L1549.5 674.8L1550.5 674.6L1551.5 674.8L1552.5 674.6L1553.5 674.5L1554.5 674.9L1555.5 674.5L1556.5 674.4L1557.5 674.7L1558.5 675.0L1559.5 674.5L1560.5 674.4L1561.5 674.6L1562.5 674.5L1563.5 674.0L1564.5 674.6L1565.5 674.6L1566.5 674.0L1567.5 674.0L1568.5 674.3L1569.5 674.2L1570.5 674.1L1571.5 674.4L1572.5 673.5L1573.5 673.8L1574.5 674.1L1575.5 674.0L1576.5 673.7L1577.5 673.3L1578.5 674.1L1579.5 674.0L1580.5 673.8L1581.5 673.8L1582.5 674.0L1583.5 674.3L1584.5 673.3L1585.5 673.6L1586.5 673.0L1587.5 673.2L1588.5 673.9L1589.5 673.5L1590.5 672.9L1591.5 673.1L1592.5 674.0L1593.5 673.7L1594.5 673.9L1595.5 674.0L1596.5 673.4L1597.5 673.5L1598.5 673.4L1599.5 673.3L1600.5 673.8L1601.5 673.6L1602.5 673.4L1603.5 673.1L1604.5 673.5L1605.5 673.5L1606.5 673.4L1607.5 673.9L1608.5 673.8L1609.5 673.8L1610.5 674.1L1611.5 673.6L1612.5 673.7L1613.5 674.4L1614.5 673.5L1615.5 673.8L1616.5 673.9L1617.5 673.7L1618.5 673.4L1619.5 673.3L1620.5 672.9L1621.5 672.2L1622.5 671.4L1623.5 670.4L1624.2 670.5L1624.5 670.2L1625.2 670.0L1625.5 670.0L1625.7 669.9L1626.2 670.1L1626.5 670.4L1627.2 670.2L1627.5 670.3L1628.5 671.6L1629.5 672.1L1630.5 672.3L1631.5 673.1L1632.5 673.4L1633.5 673.9L1634.5 674.3L1635.5 674.0L1636.5 674.0L1637.5 674.9L1638.5 674.9L1639.5 674.6L1640.5 675.3L1641.5 675.1L1642.5 675.1L1643.5 675.5L1644.5 675.5L1645.5 675.5L1646.5 675.3L1647.5 675.1L1648.5 675.3L1649.5 675.2L1650.5 675.6L1651.5 675.7L1652.5 675.4L1653.5 675.7L1654.5 675.1L1655.5 675.8L1656.5 675.6L1657.5 674.9L1658.5 675.5L1659.5 675.8L1660.5 675.7L1661.5 675.3L1662.5 675.9L1663.5 675.8L1664.5 675.7L1665.5 676.1L1666.5 675.5L1667.5 675.8L1668.5 675.7L1669.5 675.1L1670.5 675.8L1671.5 675.9L1672.5 675.5L1673.5 675.7L1674.5 676.0L1675.5 675.7L1676.5 675.9L1677.5 675.8L1678.5 675.8L1679.5 676.0L1680.5 675.3L1681.5 675.4L1682.5 675.5L1683.5 676.0L1684.5 676.1L1685.5 675.7L1686.5 675.3L1687.5 676.2L1688.5 675.7L1689.5 675.5L1690.5 675.9L1691.5 675.6L1692.5 676.0L1693.5 675.9L1694.5 675.5L1695.5 676.3L1696.5 675.8L1697.5 675.9L1698.5 676.2L1699.5 676.2L1700.5 675.1L1701.5 675.8L1702.5 675.7L1703.5 676.0L1704.5 676.0L1705.5 676.3L1706.5 675.2L1707.5 675.8L1708.5 676.1L1709.5 675.7L1710.5 676.3L1711.5 676.1L1712.5 676.1L1713.5 675.6L1714.5 675.3L1715.5 675.7L1716.5 675.8L1717.5 675.9L1718.5 676.1L1719.5 675.7L1720.5 675.5L1721.5 676.3L1722.5 676.1L1723.5 675.6L1724.5 675.7L1725.5 674.6L1726.5 675.4L1727.5 675.8L1728.5 675.9L1729.5 675.7L1730.5 675.7L1731.5 675.6L1732.5 675.5L1733.5 676.2L1734.5 676.4L1735.5 676.1L1736.5 675.6L1737.5 675.1L1738.5 676.0L1739.5 675.4L1740.5 675.6L1741.5 675.8L1742.5 676.1L1743.5 675.4L1744.5 675.5L1745.5 675.8L1746.5 675.8L1747.5 675.3L1748.5 675.3L1749.5 675.1L1750.5 674.4L1751.5 673.5L1752.5 673.3L1753.5 673.0L1754.5 671.3L1755.5 670.5L1756.4 670.4L1756.5 670.5L1757.4 669.8L1757.5 669.8L1757.9 669.2L1758.4 669.3L1758.5 669.5L1759.4 669.5L1759.5 670.3L1760.5 670.3L1761.5 672.0L1762.5 671.7L1763.5 672.8L1764.5 673.3L1765.5 673.9L1766.5 674.7L1767.5 674.4L1768.5 674.9L1769.5 675.5L1770.5 675.0L1771.5 676.2L1772.5 675.0L1773.5 675.6L1774.5 675.4L1775.5 675.3L1776.5 674.9L1777.5 674.4L1778.5 674.2L1779.5 673.3L1780.5 672.5L1781.5 672.6L1782.5 670.8L1783.1 671.2L1783.5 670.7L1784.1 670.1L1784.5 669.9L1784.6 670.4L1785.1 670.9L1785.5 671.2L1786.1 670.9L1786.5 671.5L1787.5 671.7L1788.5 672.3L1789.5 672.9L1790.5 673.8L1791.5 673.6L1792.5 673.9L1793.5 675.2L1794.5 675.1L1795.5 675.4L1796.5 675.8L1797.5 675.7L1798.5 675.6L1799.5 676.1L1800.5 676.0L1801.5 675.7L1802.5 675.8L1803.5 675.6L1804.5 675.7L1805.5 675.6L1806.5 676.0L1807.5 675.5L1808.5 675.6L1809.5 676.0L1810.5 675.9L1811.5 676.3L1812.5 675.7L1813.5 675.9L1814.5 675.8L1815.5 676.1L1816.5 675.8L1817.5 676.0L1818.5 675.4L1819.5 675.7L1820.5 676.3L1821.5 675.9L1822.5 676.0L1823.5 676.2L1824.5 676.0L1825.5 675.6L1826.5 675.9L1827.5 675.8L1828.5 675.9L1829.5 675.9L1830.5 676.1L1831.5 676.3L1832.5 676.3L1833.5 675.6L1834.5 676.0L1835.5 676.3L1836.5 675.7L1837.5 675.7L1838.5 676.4L1839.5 676.1L1840.5 676.1L1841.5 675.8L1842.5 676.3L1843.5 676.2L1844.5 675.9L1845.5 676.0L1846.5 676.1L1847.5 675.9L1848.5 675.9L1849.5 676.3L1850.5 675.8L1851.5 675.5L1852.5 676.2L1853.5 676.5L1854.5 675.8L1855.5 676.1L1856.5 676.0L1857.5 675.7L1858.5 675.7L1859.5 676.0L1860.5 675.4L1861.5 676.0L1862.5 676.7L1863.5 676.7L1864.5 675.3L1865.5 675.9L1866.5 675.6L1867.5 676.0L1868.5 675.8L1869.5 675.9L1870.5 676.0L1871.5 676.1L1872.5 676.0L1873.5 676.1L1874.5 676.2L1875.5 676.5L1876.5 676.1L1877.5 676.0L1878.5 676.3L1879.5 676.1L1880.5 676.2L1881.5 675.7L1882.5 675.5L1883.5 676.3L1884.5 675.5L1885.5 675.6L1886.5 675.9L1887.5 675.7L1888.5 676.1L1889.5 676.0L1890.5 676.0L1891.5 676.4L1892.5 676.0L1893.5 675.8L1894.5 675.6L1895.5 675.7L1896.5 675.7L1897.5 676.0L1898.5 676.5L1899.5 675.9L1900.5 676.0L1901.5 675.4L1902.5 676.5L1903.5 675.6L1904.5 676.0L1905.5 675.5L1906.5 676.2L1907.5 676.0L1908.5 675.7L1909.5 676.4L1910.5 676.4L1911.5 676.0L1912.5 675.8L1913.5 676.0L1914.5 675.8L1915.5 676.1L1916.5 675.8L1917.5 675.7L1918.5 675.9L1919.5 676.5L1920.5 675.5L1921.5 676.2L1922.5 676.1L1923.5 676.1L1924.5 676.0L1925.5 676.1L1926.5 675.3L1927.5 675.9L1928.5 675.3L1929.5 675.9L1930.5 675.9L1931.5 676.0L1932.5 676.0L1933.5 675.7L1934.5 675.8L1935.5 676.3L1936.5 676.3L1937.5 675.9L1938.5 675.7L1939.5 675.9L1940.5 676.2L1941.5 676.0L1942.5 676.0L1943.5 676.2L1944.5 676.0L1945.5 676.0L1946.5 675.9L1947.5 675.9L1948.5 675.9L1949.5 675.6L1950.5 675.7L1951.5 675.3L1952.5 675.7L1953.5 675.4L1954.5 675.9L1955.5 676.1L1956.5 675.5L1957.5 675.7L1958.5 675.6L1959.5 674.4L1960.5 674.9L1961.5 673.5L1962.5 672.9L1963.5 672.2L1964.5 671.4L1965.5 670.7L1965.8 671.1L1966.5 670.9L1966.8 670.9L1967.3 670.8L1967.5 671.0L1967.8 670.6L1968.5 670.7L1968.8 671.3L1969.5 671.0L1970.5 672.2L1971.5 672.4L1972.5 672.6L1973.5 673.4L1974.5 674.0L1975.5 674.7L1976.5 675.1L1977.5 675.4L1978.5 675.6L1979.5 675.9L1980.5 675.1L1981.5 675.9L1982.5 676.2L1983.5 675.6L1984.5 676.0L1985.5 676.1L1986.5 675.6L1987.5 675.2L1988.5 675.6L1989.5 675.8L1990.5 676.1L1991.5 676.0L1992.5 676.0L1993.5 675.8L1994.5 675.7L1995.5 675.6L1996.5 675.8L1997.5 675.7L1998.5 675.8L1999.5 675.6L2000.5 675.5L2001.5 675.9L2002.5 675.5L2003.5 675.9L2004.5 675.9L2005.5 675.2L2006.5 676.1L2007.5 674.8L2008.5 674.3L2009.5 674.0L2010.5 673.4L2011.5 672.8L2012.5 672.1L2013.5 670.7L2014.5 669.9L2015.5 667.9L2016.5 668.3L2017.0 667.6L2017.5 667.7L2018.5 669.1L2019.5 669.7L2020.5 670.1L2021.5 670.8L2022.5 671.7L2023.5 672.4L2024.5 673.4L2025.5 674.3L2026.5 674.8L2027.5 675.1L2028.5 675.1L2029.5 675.6L2030.5 675.8L2031.5 676.3L2032.5 675.8L2033.5 676.1L2034.5 676.0L2035.5 676.0L2036.5 676.0L2036.9 675.9" fill="none" stroke="#ef3e3e" stroke-width="10.9" stroke-linejoin="round" stroke-linecap="butt"/>
<path d="M132.5 343.1L133.5 343.6L134.5 342.9L135.5 342.6L136.5 343.2L137.5 343.3L138.5 343.2L139.5 343.3L140.5 343.1L141.5 342.9L142.5 342.9L143.5 343.0L144.5 343.0L145.5 343.4L146.5 343.3L147.5 342.7L148.5 343.3L149.5 343.0L150.5 343.4L151.5 343.5L152.5 343.2L153.5 342.5L154.5 343.2L155.5 342.5L156.5 343.5L157.5 342.8L158.5 342.9L159.5 343.5L160.5 342.4L161.5 343.0L162.5 342.6L163.5 342.8L164.5 342.7L165.5 343.1L166.5 342.8L167.5 343.0L168.5 343.1L169.5 342.4L170.5 343.3L171.5 342.8L172.5 342.4L173.5 342.7L174.5 343.1L175.5 343.2L176.5 342.6L177.5 342.9L178.5 342.9L179.5 343.1L180.5 342.8L181.5 343.1L182.5 342.5L183.5 342.6L184.5 343.0L185.5 343.0L186.5 342.7L187.5 342.9L188.5 342.8L189.5 343.0L190.5 343.1L191.5 342.9L192.5 343.0L193.5 342.6L194.5 342.5L195.5 342.0L196.5 342.8L197.5 342.7L198.5 342.8L199.5 342.1L200.5 342.5L201.5 342.4L202.5 342.1L203.5 342.9L204.5 343.0L205.5 342.2L206.5 342.7L207.5 343.1L208.5 342.2L209.5 342.8L210.5 343.0L211.5 343.1L212.5 342.1L213.5 342.2L214.5 342.5L215.5 342.8L216.5 342.1L217.5 342.2L218.5 342.1L219.5 342.8L220.5 342.2L221.5 342.6L222.5 342.6L223.5 342.7L224.5 342.5L225.5 342.4L226.5 342.7L227.5 342.5L228.5 341.9L229.5 342.1L230.5 342.6L231.5 342.3L232.5 342.1L233.5 342.3L234.5 343.2L235.5 342.2L236.5 342.3L237.5 342.3L238.5 342.1L239.5 342.5L240.5 342.4L241.5 342.3L242.5 341.7L243.5 342.5L244.5 342.4L245.5 342.1L246.5 341.3L247.5 342.1L248.5 341.8L249.5 342.1L250.5 342.0L251.5 341.9L252.5 342.4L253.5 342.2L254.5 342.5L255.5 341.8L256.5 342.1L257.5 342.5L258.5 342.2L259.5 341.9L260.5 341.8L261.5 341.9L262.5 342.1L263.5 342.3L264.5 342.1L265.5 342.3L266.5 342.3L267.5 342.1L268.5 342.4L269.5 342.2L270.5 341.9L271.5 341.9L272.5 341.9L273.5 341.7L274.5 341.5L275.5 341.9L276.5 341.7L277.5 342.0L278.5 341.6L279.5 341.8L280.5 341.8L281.5 341.6L282.5 341.8L283.5 341.5L284.5 341.5L285.5 341.9L286.5 341.7L287.5 341.6L288.5 341.3L289.5 341.7L290.5 342.0L291.5 340.7L292.5 341.6L293.5 341.3L294.5 341.4L295.5 341.3L296.5 340.4L297.5 341.0L298.5 340.1L299.5 339.9L300.5 339.8L301.5 339.2L302.5 338.8L303.5 338.0L304.5 337.2L305.5 336.8L306.5 335.5L307.5 335.3L308.5 333.7L309.5 332.6L310.5 330.2L311.5 328.0L312.5 325.8L313.5 323.9L314.5 320.8L315.5 318.1L316.5 313.9L317.5 309.7L318.5 305.5L319.5 299.8L320.5 293.8L321.5 286.2L322.5 276.9L323.5 264.9L324.5 250.4L325.5 231.9L326.5 205.2L327.5 171.3L328.5 130.1L329.0 109.4L329.5 91.5L330.0 79.0L330.5 74.5L331.0 81.4L331.5 102.3L332.0 129.2L332.5 159.0L333.5 216.9L334.5 262.0L335.5 292.2L336.5 311.4L337.5 322.7L338.5 328.2L339.5 331.6L340.5 333.9L341.5 335.0L342.5 336.1L343.5 337.5L344.5 337.7L345.5 338.3L346.5 339.0L347.5 339.2L348.5 339.1L349.5 340.3L350.5 339.9L351.5 340.7L352.5 340.5L353.5 340.2L354.5 341.0L355.5 340.6L356.5 340.5L357.5 340.8L358.5 340.2L359.5 341.1L360.5 340.8L361.5 341.0L362.5 340.9L363.5 341.5L364.5 341.5L365.5 341.9L366.5 342.1L367.5 341.8L368.5 341.8L369.5 342.0L370.5 341.7L371.5 341.9L372.5 342.4L373.5 342.0L374.5 341.7L375.5 342.3L376.5 342.6L377.5 343.0L378.5 342.4L379.5 342.4L380.5 342.8L381.5 342.8L382.5 343.0L383.5 342.9L384.5 343.2L385.5 343.0L386.5 343.6L387.5 343.4L388.5 343.6L389.5 343.4L390.5 343.1L391.5 343.6L392.5 343.7L393.5 344.1L394.5 344.1L395.5 343.9L396.5 343.9L397.5 343.6L398.5 343.9L399.5 344.0L400.5 343.9L401.5 343.7L402.5 344.4L403.5 343.8L404.5 344.6L405.5 344.4L406.5 344.6L407.5 343.8L408.5 344.3L409.5 343.7L410.5 344.0L411.5 343.7L412.5 343.9L413.5 344.0L414.5 344.5L415.5 344.5L416.5 344.1L417.5 344.1L418.5 344.0L419.5 343.9L420.5 343.7L421.5 344.2L422.5 344.5L423.5 344.1L424.5 344.4L425.5 344.0L426.5 344.0L427.5 344.2L428.5 344.6L429.5 344.2L430.5 344.6L431.5 344.3L432.5 344.1L433.5 343.9L434.5 344.4L435.5 344.3L436.5 345.0L437.5 344.9L438.5 344.3L439.5 345.1L440.5 345.0L441.5 344.0L442.5 344.6L443.5 345.1L444.5 344.5L445.5 344.8L446.5 345.1L447.5 345.0L448.5 345.0L449.5 344.9L450.5 344.4L451.5 345.3L452.5 344.6L453.5 345.0L454.5 344.1L455.5 344.2L456.5 344.0L457.5 343.6L458.5 343.5L459.5 343.1L460.5 342.9L461.5 342.2L462.5 341.5L463.5 340.8L464.5 340.0L465.5 338.2L466.5 336.6L467.5 334.1L468.5 330.5L469.5 326.9L470.5 321.7L471.5 314.5L472.5 304.8L473.5 290.7L474.5 274.2L474.6 272.2L475.5 259.6L475.6 258.5L476.1 255.8L476.5 258.2L476.6 259.4L477.5 276.6L477.6 279.1L478.5 299.8L479.5 318.7L480.5 331.1L481.5 337.5L482.5 341.1L483.5 341.6L484.5 342.8L485.5 343.5L486.5 344.4L487.5 344.5L488.5 344.6L489.5 344.9L490.5 345.2L491.5 345.0L492.5 344.8L493.5 345.0L494.5 344.8L495.5 345.0L496.5 345.2L497.5 344.9L498.5 345.1L499.5 344.9L500.5 344.7L501.5 344.6L502.5 345.2L503.5 345.0L504.5 345.1L505.5 344.8L506.5 344.7L507.5 344.7L508.5 344.3L509.5 344.6L510.5 344.2L511.5 343.7L512.5 342.8L513.5 342.4L514.5 341.9L515.5 341.2L516.5 339.7L517.5 338.1L518.5 336.1L519.5 333.0L520.5 329.0L521.3 325.4L521.5 325.3L522.3 322.5L522.5 322.0L522.8 322.0L523.3 322.1L523.5 322.4L524.3 325.1L524.5 326.6L525.5 330.7L526.5 335.4L527.5 338.4L528.5 340.7L529.5 342.7L530.5 343.6L531.5 344.2L532.5 345.2L533.5 345.0L534.5 344.9L535.5 345.4L536.5 345.1L537.5 345.6L538.5 344.9L539.5 345.7L540.5 345.1L541.5 345.2L542.5 345.5L543.5 345.2L544.5 345.0L545.5 345.4L546.5 345.4L547.5 345.0L548.5 345.8L549.5 345.3L550.5 345.3L551.5 345.5L552.5 345.6L553.5 345.9L554.5 344.9L555.5 345.5L556.5 345.8L557.5 345.6L558.5 345.5L559.5 345.2L560.5 345.6L561.5 345.4L562.5 345.5L563.5 345.2L564.5 345.4L565.5 345.4L566.5 345.0L567.5 345.7L568.5 345.4L569.5 345.0L570.5 345.3L571.5 345.4L572.5 345.2L573.5 345.0L574.5 345.2L575.5 344.8L576.5 344.7L577.5 345.5L578.5 345.6L579.5 345.6L580.5 345.7L581.5 345.4L582.5 344.6L583.5 344.7L584.5 345.1L585.5 344.5L586.5 344.5L587.5 344.5L588.5 344.5L589.5 343.8L590.5 344.0L591.5 343.9L592.5 342.9L593.5 343.5L594.5 343.0L595.5 342.1L596.5 342.2L597.5 341.0L598.5 340.0L599.5 339.1L600.5 336.2L601.5 334.9L602.5 332.6L603.5 329.3L604.5 324.3L605.5 318.2L606.5 309.6L607.5 298.4L608.5 284.4L608.7 281.1L609.5 272.3L609.7 270.6L610.2 269.1L610.5 270.0L610.7 271.5L611.5 282.9L611.7 286.4L612.5 301.2L613.5 317.4L614.5 329.2L615.5 336.2L616.5 340.1L617.5 342.5L618.5 343.2L619.5 343.6L620.5 343.5L621.5 343.9L622.5 343.7L623.5 345.0L624.5 345.2L625.5 344.9L626.5 345.0L627.5 345.3L628.5 345.4L629.5 344.8L630.5 345.3L631.5 345.3L632.5 345.1L633.5 345.9L634.5 345.7L635.5 345.3L636.5 345.5L637.5 345.4L638.5 345.4L639.5 345.4L640.5 345.9L641.5 345.6L642.5 345.4L643.5 345.4L644.5 345.6L645.5 345.3L646.5 345.1L647.5 345.5L648.5 346.0L649.5 345.3L650.5 345.6L651.5 345.4L652.5 345.9L653.5 345.6L654.5 345.1L655.5 345.9L656.5 345.4L657.5 345.1L658.5 345.1L659.5 345.3L660.5 345.5L661.5 345.0L662.5 344.8L663.5 345.4L664.5 345.3L665.5 344.6L666.5 344.6L667.5 344.5L668.5 344.1L669.5 343.6L670.5 343.9L671.5 342.8L672.5 342.0L673.5 342.0L674.5 341.3L675.5 340.1L676.5 338.2L677.5 336.6L678.5 334.0L679.5 331.2L680.5 326.5L681.5 321.4L682.5 314.6L683.5 304.9L683.7 303.9L684.5 297.6L684.7 296.0L685.2 295.8L685.5 295.7L685.7 296.9L686.5 302.8L686.7 304.8L687.5 313.5L688.5 323.4L689.5 331.6L690.5 337.2L691.5 341.3L692.5 342.5L693.5 343.8L694.5 344.4L695.5 345.0L696.5 344.8L697.5 345.1L698.5 344.9L699.5 346.1L700.5 345.0L701.5 345.6L702.5 345.4L703.5 345.7L704.5 345.5L705.5 345.6L706.5 346.0L707.5 346.0L708.5 345.8L709.5 345.8L710.5 345.9L711.5 345.8L712.5 346.0L713.5 346.1L714.5 346.0L715.5 345.4L716.5 345.9L717.5 345.6L718.5 346.0L719.5 345.8L720.5 346.0L721.5 345.9L722.5 346.2L723.5 346.3L724.5 346.0L725.5 345.4L726.5 345.9L727.5 346.5L728.5 345.7L729.5 345.8L730.5 346.5L731.5 346.3L732.5 345.9L733.5 345.6L734.5 344.8L735.5 345.3L736.5 344.6L737.5 343.2L738.5 343.0L739.0 342.7L739.5 342.5L740.0 342.2L740.5 343.1L741.0 342.1L741.5 342.9L742.0 342.8L742.5 342.8L743.5 343.5L744.5 344.1L745.5 344.1L746.5 344.6L747.5 345.4L748.5 345.5L749.5 345.5L750.5 345.1L751.5 345.1L752.5 346.0L753.5 346.0L754.5 345.7L755.5 345.7L756.5 345.4L757.5 345.6L758.5 345.8L759.5 345.7L760.5 345.2L761.5 345.5L762.5 345.1L763.5 345.2L764.5 344.9L765.5 344.4L766.5 344.8L767.5 345.1L768.5 344.7L769.5 345.0L770.5 344.6L771.5 344.8L772.5 344.4L773.5 344.9L774.5 344.2L775.5 344.2L776.5 344.3L777.5 344.3L778.5 343.3L779.5 343.8L780.5 342.8L781.5 342.5L782.5 342.1L783.5 342.2L784.5 341.1L785.5 341.0L786.5 340.2L787.5 339.1L788.5 338.3L789.5 337.5L790.5 335.9L791.5 333.4L792.5 331.7L793.5 329.1L794.5 326.3L795.5 322.7L796.5 318.9L797.5 313.4L798.5 306.9L799.5 299.2L800.5 288.8L801.5 275.0L802.5 255.8L803.5 230.0L804.5 198.5L805.2 175.9L805.5 167.0L806.2 152.1L806.5 149.4L806.7 147.8L807.2 153.2L807.5 160.7L808.2 185.3L808.5 198.8L809.5 240.6L810.5 276.7L811.5 302.5L812.5 319.6L813.5 329.5L814.5 335.1L815.5 337.6L816.5 339.3L817.5 341.1L818.5 342.2L819.5 342.6L820.5 343.2L821.5 344.0L822.5 344.2L823.5 344.0L824.5 344.6L825.5 344.7L826.5 345.0L827.5 345.1L828.5 345.5L829.5 345.4L830.5 345.6L831.5 345.6L832.5 345.6L833.5 345.6L834.5 345.9L835.5 346.0L836.5 346.4L837.5 346.7L838.5 345.8L839.5 345.9L840.5 346.4L841.5 346.0L842.5 346.2L843.5 345.8L844.5 346.4L845.5 345.8L846.5 346.6L847.5 346.0L848.5 346.4L849.5 346.6L850.5 346.0L851.5 346.3L852.5 346.9L853.5 345.9L854.5 346.3L855.5 345.6L856.5 346.3L857.5 346.0L858.5 345.5L859.5 345.1L860.5 345.3L861.5 344.3L862.5 342.8L863.5 342.2L864.5 340.6L864.7 340.4L865.5 340.2L865.7 340.0L866.2 340.1L866.5 340.3L866.7 339.8L867.5 340.6L867.7 340.6L868.5 340.7L869.5 342.4L870.5 343.4L871.5 343.6L872.5 344.6L873.5 345.4L874.5 345.6L875.5 345.2L876.5 345.0L877.5 344.4L878.5 343.3L879.5 342.6L880.5 342.1L881.3 340.2L881.5 340.4L882.3 339.7L882.5 340.4L882.8 339.4L883.3 340.2L883.5 340.2L884.3 340.2L884.5 340.5L885.5 341.6L886.5 343.0L887.5 343.5L888.5 344.6L889.5 345.2L890.5 345.3L891.5 345.6L892.5 345.7L893.5 346.2L894.5 346.1L895.5 345.9L896.5 345.3L897.5 345.3L898.5 345.3L899.5 344.7L900.5 344.0L901.5 343.5L902.5 343.5L903.5 342.9L904.5 341.8L905.5 340.9L906.5 338.3L907.5 336.1L908.5 333.8L909.5 330.6L910.0 328.4L910.5 327.2L911.0 326.2L911.5 325.6L912.0 325.8L912.5 327.0L913.0 328.5L913.5 330.5L914.5 333.9L915.5 337.2L916.5 340.0L917.5 342.4L918.5 344.2L919.5 344.7L920.5 345.5L921.5 346.1L922.5 346.2L923.5 346.9L924.5 346.6L925.5 346.7L926.5 347.2L927.5 346.1L928.5 346.1L929.5 346.5L930.5 346.8L931.5 347.1L932.5 347.0L933.5 346.6L934.5 346.4L935.5 346.9L936.5 346.8L937.5 346.6L938.5 346.5L939.5 347.1L940.5 346.8L941.5 346.9L942.5 346.9L943.5 346.7L944.5 346.7L945.5 346.7L946.5 346.9L947.5 346.7L948.5 347.1L949.5 346.6L950.5 346.9L951.5 346.9L952.5 347.0L953.5 345.9L954.5 347.0L955.5 346.9L956.5 346.6L957.5 346.6L958.5 346.6L959.5 346.2L960.5 347.5L961.5 346.5L962.5 346.7L963.5 346.1L964.5 346.3L965.5 345.6L966.5 346.2L967.5 345.9L968.5 346.1L969.5 346.1L970.5 346.2L971.5 345.7L972.5 345.1L973.5 345.1L974.5 345.1L975.5 345.1L976.5 343.4L977.5 343.2L978.5 342.6L979.5 341.9L980.5 341.1L981.5 340.0L982.5 338.1L983.5 336.2L984.5 332.9L985.5 329.4L986.5 324.6L987.5 318.8L988.5 311.2L989.5 300.7L990.4 291.1L990.5 289.4L991.4 282.0L991.5 282.0L991.9 280.5L992.4 282.8L992.5 283.3L993.4 292.2L993.5 294.0L994.5 307.7L995.5 320.5L996.5 329.8L997.5 336.3L998.5 340.5L999.5 342.8L1000.5 343.8L1001.5 345.1L1002.5 345.6L1003.5 345.4L1004.5 345.6L1005.5 345.6L1006.5 345.9L1007.5 346.0L1008.5 346.2L1009.5 346.5L1010.5 346.7L1011.5 346.0L1012.5 346.0L1013.5 345.8L1014.5 346.1L1015.5 346.2L1016.5 345.5L1017.5 345.6L1018.5 345.0L1019.5 344.5L1020.5 344.4L1021.5 344.2L1022.5 343.2L1023.5 341.9L1024.5 341.1L1025.5 340.0L1026.5 339.0L1027.5 336.0L1028.5 334.4L1029.5 330.1L1030.5 325.3L1031.5 319.3L1032.3 313.3L1032.5 313.0L1033.3 309.7L1033.5 309.4L1033.8 309.4L1034.3 309.6L1034.5 310.0L1035.3 314.5L1035.5 315.7L1036.5 322.8L1037.5 329.3L1038.5 335.1L1039.5 338.4L1040.5 342.3L1041.5 344.5L1042.5 345.4L1043.5 346.0L1044.5 346.6L1045.5 346.6L1046.5 346.9L1047.5 347.6L1048.5 347.7L1049.5 346.8L1050.5 347.2L1051.5 347.6L1052.5 347.8L1053.5 347.2L1054.5 347.5L1055.5 347.9L1056.5 348.1L1057.5 347.5L1058.5 347.7L1059.5 347.8L1060.5 348.2L1061.5 348.0L1062.5 348.0L1063.5 348.5L1064.5 348.2L1065.5 348.0L1066.5 348.5L1067.5 348.5L1068.5 348.5L1069.5 348.6L1070.5 348.2L1071.5 347.5L1072.5 348.0L1073.5 348.2L1074.5 348.1L1075.5 348.4L1076.5 348.2L1077.5 348.7L1078.5 348.3L1079.5 348.5L1080.5 348.5L1081.5 348.6L1082.5 348.0L1083.5 348.6L1084.5 348.2L1085.5 347.6L1086.5 348.7L1087.5 348.3L1088.5 348.6L1089.5 347.9L1090.5 348.4L1091.5 347.9L1092.5 348.9L1093.5 348.6L1094.5 348.1L1095.5 347.3L1096.5 348.0L1097.5 348.0L1098.5 347.8L1099.5 347.6L1100.5 347.0L1101.5 346.6L1102.5 345.5L1103.5 343.6L1104.5 342.3L1105.5 340.2L1106.5 338.2L1106.6 337.9L1107.5 336.8L1107.6 337.7L1108.1 337.6L1108.5 337.2L1108.6 336.8L1109.5 338.1L1109.6 337.8L1110.5 339.2L1111.5 340.8L1112.5 343.0L1113.5 344.4L1114.5 346.1L1115.5 346.8L1116.5 347.0L1117.5 347.4L1118.5 347.6L1119.5 347.7L1120.5 347.7L1121.5 347.8L1122.5 346.6L1123.5 346.5L1124.5 345.4L1125.5 344.2L1126.5 342.3L1127.5 340.2L1128.5 339.0L1129.5 338.1L1130.0 337.4L1130.5 338.1L1131.5 339.5L1132.5 340.2L1133.5 342.3L1134.5 343.0L1135.5 345.3L1136.5 346.0L1137.5 347.2L1138.5 347.5L1139.5 348.0L1140.5 348.5L1141.5 348.5L1142.5 348.6L1143.5 348.2L1144.5 348.3L1145.5 348.4L1146.5 348.3L1147.5 348.2L1148.5 348.5L1149.5 348.6L1150.5 348.4L1151.5 348.2L1152.5 348.8L1153.5 348.3L1154.5 349.1L1155.5 348.6L1156.5 348.6L1157.5 348.9L1158.5 348.6L1159.5 348.2L1160.5 348.6L1161.5 347.9L1162.5 348.7L1163.5 348.6L1164.5 348.7L1165.5 348.6L1166.5 349.1L1167.5 348.6L1168.5 348.4L1169.5 349.4L1170.5 348.5L1171.5 348.7L1172.5 348.5L1173.5 348.4L1174.5 348.5L1175.5 348.3L1176.5 348.4L1177.5 348.3L1178.5 348.2L1179.5 348.0L1180.5 348.0L1181.5 347.1L1182.5 347.6L1183.5 346.2L1184.5 346.3L1185.5 345.7L1186.5 344.8L1187.5 344.3L1188.5 344.5L1189.0 343.9L1189.5 343.8L1190.5 344.3L1191.5 344.5L1192.5 344.7L1193.5 345.6L1194.5 346.6L1195.5 346.8L1196.5 347.4L1197.5 347.7L1198.5 347.2L1199.5 347.4L1200.5 347.7L1201.5 347.6L1202.5 348.2L1203.5 347.7L1204.5 347.6L1205.5 348.3L1206.5 347.5L1207.5 347.4L1208.5 348.1L1209.5 347.7L1210.5 347.5L1211.5 347.7L1212.5 347.2L1213.5 347.1L1214.5 346.9L1215.5 347.2L1216.5 346.6L1217.5 345.9L1218.5 345.5L1219.5 345.6L1220.5 344.4L1221.5 343.7L1222.5 343.0L1223.5 341.6L1224.5 340.8L1225.5 339.6L1226.5 337.4L1227.5 334.2L1228.5 331.1L1229.5 326.3L1230.5 320.3L1231.5 312.6L1232.5 301.9L1233.5 288.6L1234.2 279.0L1234.5 275.1L1235.2 268.8L1235.5 267.6L1235.7 266.6L1236.2 267.8L1236.5 269.3L1237.2 276.6L1237.5 279.8L1238.5 292.3L1239.5 303.9L1240.5 314.1L1241.5 320.4L1242.5 324.5L1243.5 327.0L1244.5 328.6L1245.5 328.6L1246.5 328.8L1247.5 328.9L1248.5 329.4L1249.5 328.5L1250.5 327.1L1251.5 324.4L1252.5 319.4L1253.3 314.2L1253.5 313.2L1254.3 309.4L1254.5 308.3L1254.8 308.8L1255.3 309.6L1255.5 310.5L1256.3 315.4L1256.5 317.0L1257.5 325.0L1258.5 331.6L1259.5 337.4L1260.5 341.6L1261.5 344.4L1262.5 345.5L1263.5 347.0L1264.5 347.7L1265.5 347.6L1266.5 347.3L1267.5 348.1L1268.5 348.1L1269.5 347.4L1270.5 347.1L1271.5 346.2L1272.5 344.8L1273.5 343.7L1274.5 343.5L1274.8 342.7L1275.5 342.0L1275.8 342.4L1276.3 341.7L1276.5 341.9L1276.8 342.5L1277.5 342.7L1277.8 342.4L1278.5 343.4L1279.5 344.2L1280.5 344.3L1281.5 345.9L1282.5 347.1L1283.5 347.7L1284.5 347.9L1285.5 349.0L1286.5 348.9L1287.5 349.6L1288.5 349.6L1289.5 350.0L1290.5 349.5L1291.5 350.4L1292.5 349.8L1293.5 349.8L1294.5 349.8L1295.5 349.9L1296.5 350.0L1297.5 349.9L1298.5 350.2L1299.5 350.1L1300.5 349.8L1301.5 349.7L1302.5 349.6L1303.5 349.5L1304.5 349.2L1305.5 347.9L1306.5 347.7L1307.5 347.0L1308.5 345.8L1309.5 346.0L1310.0 346.3L1310.5 345.7L1311.5 345.8L1312.5 346.0L1313.5 347.2L1314.5 347.8L1315.5 348.4L1316.5 349.2L1317.5 349.0L1318.5 349.6L1319.5 350.4L1320.5 350.5L1321.5 350.0L1322.5 349.7L1323.5 350.4L1324.5 350.5L1325.5 350.5L1326.5 350.1L1327.5 350.7L1328.5 350.2L1329.5 350.1L1330.5 350.2L1331.5 350.5L1332.5 350.5L1333.5 350.1L1334.5 350.6L1335.5 350.9L1336.5 350.0L1337.5 350.6L1338.5 350.2L1339.5 349.6L1340.5 350.5L1341.5 350.0L1342.5 350.2L1343.5 349.9L1344.5 349.0L1345.5 349.2L1346.5 349.2L1347.5 348.5L1348.5 347.0L1349.5 346.9L1350.0 346.5L1350.5 346.4L1351.0 346.3L1351.5 346.1L1352.0 345.9L1352.5 345.7L1353.0 345.5L1353.5 345.2L1354.5 345.6L1355.5 345.9L1356.5 345.7L1357.5 344.9L1358.0 344.3L1358.5 344.7L1359.0 344.4L1359.5 345.1L1360.0 344.8L1360.5 345.2L1361.0 345.7L1361.5 346.1L1362.5 347.0L1363.5 348.0L1364.5 348.6L1365.5 349.5L1366.5 349.4L1367.5 350.2L1368.5 351.2L1369.5 350.6L1370.5 350.4L1371.5 350.7L1372.5 350.6L1373.5 350.6L1374.5 351.2L1375.5 351.4L1376.5 350.7L1377.5 350.6L1378.5 351.1L1379.5 351.2L1380.5 350.8L1381.5 351.1L1382.5 350.7L1383.5 351.2L1384.5 350.8L1385.5 350.8L1386.5 350.9L1387.5 350.4L1388.5 350.7L1389.5 350.6L1390.5 350.7L1391.5 349.9L1392.5 349.1L1393.5 348.9L1394.5 348.4L1395.5 347.1L1396.5 345.7L1397.5 344.3L1398.5 342.2L1399.5 340.4L1400.3 339.0L1400.5 338.4L1401.3 338.0L1401.5 337.9L1401.8 337.6L1402.3 338.1L1402.5 338.0L1403.3 338.5L1403.5 338.7L1404.5 339.9L1405.5 342.5L1406.5 343.5L1407.5 345.0L1408.5 345.9L1409.5 347.6L1410.5 348.5L1411.5 349.2L1412.5 349.1L1413.5 349.0L1414.5 349.8L1415.5 348.6L1416.5 348.3L1417.5 347.7L1418.5 347.1L1419.0 347.4L1419.5 346.9L1420.0 346.9L1420.5 347.0L1421.0 346.9L1421.5 346.8L1422.0 346.6L1422.5 347.4L1423.5 347.6L1424.5 347.7L1425.5 348.9L1426.5 349.8L1427.5 350.0L1428.5 350.2L1429.5 350.9L1430.5 350.9L1431.5 350.6L1432.5 351.1L1433.5 351.3L1434.5 351.1L1435.5 351.0L1436.5 350.9L1437.5 351.8L1438.5 351.6L1439.5 351.1L1440.5 351.8L1441.5 351.4L1442.5 351.1L1443.5 351.2L1444.5 351.6L1445.5 351.7L1446.5 351.7L1447.5 351.3L1448.5 350.7L1449.5 351.1L1450.5 351.5L1451.5 351.1L1452.5 351.0L1453.5 350.9L1454.5 350.6L1455.5 351.6L1456.5 350.3L1457.5 350.3L1458.5 350.4L1459.5 350.0L1460.5 349.4L1461.5 348.0L1462.5 347.4L1463.5 347.0L1464.5 345.3L1465.1 345.3L1465.5 344.7L1466.1 344.3L1466.5 344.4L1466.6 344.4L1467.1 345.0L1467.5 345.1L1468.1 345.8L1468.5 345.1L1469.5 346.0L1470.5 347.1L1471.5 347.6L1472.5 348.3L1473.5 349.2L1474.5 350.2L1475.5 350.2L1476.5 351.3L1477.5 350.9L1478.5 351.6L1479.5 351.7L1480.5 351.4L1481.5 351.7L1482.5 352.1L1483.5 351.4L1484.5 352.1L1485.5 351.7L1486.5 352.1L1487.5 352.2L1488.5 352.0L1489.5 351.7L1490.5 351.9L1491.5 351.6L1492.5 351.3L1493.5 352.5L1494.5 351.7L1495.5 351.2L1496.5 352.1L1497.5 351.4L1498.5 352.1L1499.5 352.5L1500.5 352.4L1501.5 352.3L1502.5 351.9L1503.5 351.8L1504.5 351.4L1505.5 351.7L1506.5 352.0L1507.5 351.8L1508.5 352.6L1509.5 352.0L1510.5 352.0L1511.5 352.4L1512.5 351.9L1513.5 352.4L1514.5 352.3L1515.5 351.9L1516.5 352.4L1517.5 352.0L1518.5 352.0L1519.5 352.3L1520.5 352.2L1521.5 352.0L1522.5 352.4L1523.5 352.6L1524.5 352.1L1525.5 352.0L1526.5 352.0L1527.5 352.2L1528.5 352.5L1529.5 351.6L1530.5 352.6L1531.5 352.2L1532.5 352.1L1533.5 353.0L1534.5 352.5L1535.5 352.7L1536.5 352.0L1537.5 352.4L1538.5 351.5L1539.5 351.9L1540.5 351.7L1541.5 352.4L1542.5 352.1L1543.5 351.5L1544.5 352.3L1545.5 352.0L1546.5 352.1L1547.5 352.8L1548.5 351.3L1549.5 352.1L1550.5 351.6L1551.5 351.9L1552.5 351.9L1553.5 352.2L1554.5 352.0L1555.5 351.9L1556.5 350.9L1557.5 351.4L1558.5 351.6L1559.5 351.4L1560.5 351.3L1561.5 351.7L1562.5 351.4L1563.5 351.2L1564.5 351.3L1565.5 351.1L1566.5 351.0L1567.5 351.1L1568.5 351.5L1569.5 351.7L1570.5 351.3L1571.5 350.9L1572.5 350.9L1573.5 351.2L1574.5 350.8L1575.5 351.2L1576.5 351.4L1577.5 351.4L1578.5 350.7L1579.5 350.9L1580.5 350.8L1581.5 351.0L1582.5 350.5L1583.5 350.8L1584.5 350.8L1585.5 350.5L1586.5 350.8L1587.5 350.9L1588.5 350.7L1589.5 350.5L1590.5 350.8L1591.5 350.8L1592.5 350.4L1593.5 350.6L1594.5 350.7L1595.5 350.4L1596.5 350.9L1597.5 350.6L1598.5 350.4L1599.5 351.1L1600.5 351.2L1601.5 350.4L1602.5 350.7L1603.5 350.5L1604.5 350.2L1605.5 351.2L1606.5 350.7L1607.5 351.2L1608.5 350.8L1609.5 350.6L1610.5 351.2L1611.5 350.8L1612.5 351.2L1613.5 350.6L1614.5 351.4L1615.5 351.4L1616.5 350.6L1617.5 349.9L1618.5 349.7L1619.5 349.8L1620.5 348.7L1621.5 348.7L1622.5 348.4L1622.8 348.0L1623.5 348.1L1623.8 347.8L1624.3 347.6L1624.5 347.9L1624.8 347.7L1625.5 348.2L1625.8 348.1L1626.5 349.0L1627.5 348.7L1628.5 349.8L1629.5 350.2L1630.5 350.7L1631.5 350.9L1632.5 351.0L1633.5 350.9L1634.5 351.5L1635.5 352.1L1636.5 352.1L1637.5 352.3L1638.5 351.8L1639.5 352.3L1640.5 352.1L1641.5 351.8L1642.5 352.6L1643.5 352.8L1644.5 352.3L1645.5 352.7L1646.5 352.4L1647.5 352.2L1648.5 351.9L1649.5 352.8L1650.5 353.0L1651.5 352.5L1652.5 353.0L1653.5 352.9L1654.5 352.5L1655.5 353.0L1656.5 353.0L1657.5 352.6L1658.5 352.7L1659.5 352.9L1660.5 352.6L1661.5 352.5L1662.5 352.9L1663.5 353.5L1664.5 353.0L1665.5 352.7L1666.5 352.7L1667.5 353.4L1668.5 352.7L1669.5 352.7L1670.5 352.8L1671.5 352.9L1672.5 352.8L1673.5 352.9L1674.5 353.0L1675.5 353.4L1676.5 353.1L1677.5 352.4L1678.5 352.9L1679.5 352.7L1680.5 352.6L1681.5 352.9L1682.5 352.8L1683.5 353.0L1684.5 352.8L1685.5 353.4L1686.5 353.0L1687.5 352.6L1688.5 353.2L1689.5 352.8L1690.5 353.1L1691.5 352.5L1692.5 352.5L1693.5 352.5L1694.5 352.7L1695.5 352.5L1696.5 353.5L1697.5 353.5L1698.5 352.8L1699.5 353.6L1700.5 353.4L1701.5 352.8L1702.5 352.9L1703.5 353.2L1704.5 352.7L1705.5 353.3L1706.5 352.7L1707.5 353.4L1708.5 353.7L1709.5 353.1L1710.5 353.4L1711.5 353.1L1712.5 353.2L1713.5 352.8L1714.5 353.1L1715.5 353.5L1716.5 353.4L1717.5 352.7L1718.5 352.9L1719.5 353.2L1720.5 353.3L1721.5 353.1L1722.5 352.7L1723.5 352.9L1724.5 353.2L1725.5 353.4L1726.5 352.9L1727.5 353.2L1728.5 353.5L1729.5 352.8L1730.5 352.7L1731.5 353.0L1732.5 353.4L1733.5 353.0L1734.5 353.1L1735.5 352.6L1736.5 353.1L1737.5 352.4L1738.5 353.0L1739.5 352.9L1740.5 353.4L1741.5 353.2L1742.5 352.5L1743.5 353.4L1744.5 353.6L1745.5 352.9L1746.5 352.9L1747.5 352.5L1748.5 352.5L1749.5 352.3L1750.5 352.2L1751.5 351.7L1752.5 351.0L1753.5 350.1L1754.5 350.6L1755.5 349.4L1756.4 349.0L1756.5 348.4L1757.4 348.1L1757.5 348.2L1757.9 348.1L1758.4 348.6L1758.5 347.8L1759.4 348.5L1759.5 348.5L1760.5 348.9L1761.5 349.7L1762.5 350.2L1763.5 350.7L1764.5 351.3L1765.5 350.9L1766.5 352.2L1767.5 352.2L1768.5 352.6L1769.5 352.5L1770.5 352.3L1771.5 353.0L1772.5 352.6L1773.5 352.8L1774.5 352.4L1775.5 352.3L1776.5 352.6L1777.5 351.5L1778.5 352.1L1779.5 351.4L1780.5 350.6L1781.5 350.3L1782.5 350.4L1783.5 349.3L1784.0 348.8L1784.5 349.1L1785.5 349.4L1786.5 349.8L1787.5 349.9L1788.5 350.8L1789.5 351.4L1790.5 351.8L1791.5 352.0L1792.5 351.8L1793.5 352.7L1794.5 352.8L1795.5 353.0L1796.5 352.9L1797.5 353.3L1798.5 352.7L1799.5 353.0L1800.5 353.3L1801.5 353.0L1802.5 353.2L1803.5 353.4L1804.5 354.0L1805.5 352.5L1806.5 353.1L1807.5 353.2L1808.5 352.9L1809.5 353.1L1810.5 352.6L1811.5 353.4L1812.5 353.3L1813.5 352.9L1814.5 353.4L1815.5 352.8L1816.5 353.0L1817.5 353.8L1818.5 352.7L1819.5 352.5L1820.5 353.3L1821.5 353.2L1822.5 353.8L1823.5 353.6L1824.5 353.3L1825.5 352.8L1826.5 352.9L1827.5 353.1L1828.5 353.6L1829.5 353.0L1830.5 353.2L1831.5 352.8L1832.5 353.4L1833.5 353.8L1834.5 353.2L1835.5 353.1L1836.5 352.9L1837.5 353.1L1838.5 353.0L1839.5 352.8L1840.5 353.6L1841.5 353.2L1842.5 353.3L1843.5 353.3L1844.5 353.2L1845.5 353.2L1846.5 353.1L1847.5 353.3L1848.5 352.9L1849.5 352.9L1850.5 353.2L1851.5 353.2L1852.5 352.7L1853.5 353.0L1854.5 352.9L1855.5 353.2L1856.5 353.6L1857.5 352.9L1858.5 353.3L1859.5 353.6L1860.5 353.2L1861.5 353.4L1862.5 352.9L1863.5 352.7L1864.5 353.5L1865.5 353.2L1866.5 353.7L1867.5 353.2L1868.5 353.0L1869.5 353.5L1870.5 353.8L1871.5 353.5L1872.5 353.1L1873.5 353.3L1874.5 353.4L1875.5 353.0L1876.5 353.2L1877.5 353.6L1878.5 353.4L1879.5 353.3L1880.5 353.2L1881.5 353.3L1882.5 353.2L1883.5 353.3L1884.5 353.4L1885.5 353.0L1886.5 353.3L1887.5 353.0L1888.5 353.3L1889.5 352.8L1890.5 353.2L1891.5 353.1L1892.5 353.4L1893.5 353.1L1894.5 352.8L1895.5 353.2L1896.5 352.3L1897.5 353.0L1898.5 353.6L1899.5 353.0L1900.5 353.1L1901.5 353.0L1902.5 353.4L1903.5 353.0L1904.5 353.5L1905.5 353.4L1906.5 352.9L1907.5 353.8L1908.5 352.9L1909.5 353.2L1910.5 353.5L1911.5 352.6L1912.5 353.2L1913.5 353.5L1914.5 353.5L1915.5 353.1L1916.5 353.3L1917.5 353.7L1918.5 352.8L1919.5 353.0L1920.5 353.7L1921.5 353.3L1922.5 353.4L1923.5 353.1L1924.5 353.1L1925.5 352.9L1926.5 353.7L1927.5 353.3L1928.5 352.8L1929.5 353.5L1930.5 353.1L1931.5 353.6L1932.5 352.8L1933.5 353.1L1934.5 353.2L1935.5 352.8L1936.5 353.4L1937.5 353.5L1938.5 353.2L1939.5 352.9L1940.5 352.7L1941.5 353.4L1942.5 353.2L1943.5 353.1L1944.5 353.3L1945.5 353.3L1946.5 352.7L1947.5 353.5L1948.5 353.1L1949.5 353.2L1950.5 353.1L1951.5 353.2L1952.5 353.5L1953.5 352.8L1954.5 353.0L1955.5 352.6L1956.5 352.7L1957.5 352.7L1958.5 352.4L1959.5 352.1L1960.5 351.5L1961.5 351.5L1962.5 350.5L1963.5 350.4L1964.5 349.4L1965.5 348.8L1966.0 349.3L1966.5 349.4L1967.5 349.1L1968.5 349.7L1969.5 350.0L1970.5 350.4L1971.5 351.3L1972.5 351.7L1973.5 352.3L1974.5 352.1L1975.5 352.8L1976.5 353.1L1977.5 353.0L1978.5 352.9L1979.5 353.3L1980.5 353.4L1981.5 352.8L1982.5 353.3L1983.5 353.8L1984.5 353.2L1985.5 353.1L1986.5 353.3L1987.5 353.3L1988.5 353.6L1989.5 353.0L1990.5 352.8L1991.5 353.1L1992.5 353.6L1993.5 353.2L1994.5 353.4L1995.5 353.3L1996.5 353.2L1997.5 353.6L1998.5 353.1L1999.5 353.6L2000.5 353.6L2001.5 353.3L2002.5 353.2L2003.5 353.2L2004.5 353.0L2005.5 352.8L2006.5 353.0L2007.5 352.6L2008.5 352.0L2009.5 351.3L2010.5 350.9L2011.5 350.0L2012.5 348.5L2013.5 348.1L2014.5 346.6L2014.7 346.7L2015.5 346.1L2015.7 346.0L2016.2 346.1L2016.5 345.9L2016.7 346.0L2017.5 345.7L2017.7 346.6L2018.5 346.6L2019.5 348.0L2020.5 348.8L2021.5 349.7L2022.5 350.7L2023.5 351.2L2024.5 351.6L2025.5 351.9L2026.5 352.0L2027.5 353.0L2028.5 352.4L2029.5 353.2L2030.5 352.8L2031.5 352.6L2032.5 353.5L2033.5 353.3L2034.5 353.3L2035.5 353.2L2036.5 353.9L2036.9 353.1" fill="none" stroke="#186bdd" stroke-width="10.9" stroke-linejoin="round" stroke-linecap="butt"/>
</g>
<text class="tk" transform="translate(344.8 1545.2) scale(0.908 1)">10</text>
<text class="tk" transform="translate(768.0 1545.2) scale(0.908 1)">20</text>
<text class="tk" transform="translate(1191.2 1545.2) scale(0.908 1)">30</text>
<text class="tk" transform="translate(1614.4 1545.2) scale(0.908 1)">40</text>
<text class="tk" transform="translate(2037.6 1545.2) scale(0.908 1)">50</text>
<text class="lb" transform="translate(1614.6 296.3) scale(0.955 1)">CZ-S-500</text>
<text class="lb" transform="translate(1629.3 637.7) scale(0.955 1)">CZ-S-200</text>
<text class="lb" transform="translate(1698.6 944.1) scale(0.955 1)">CZ-F</text>
<text class="lb" transform="translate(1554.3 1095.5) scale(0.955 1)">PDF #48-1548</text>
<text class="lb" transform="translate(1555.7 1335.0) scale(0.955 1)">PDF #52-0784</text>
<text class="ax"><tspan class="two" x="1001.2" y="1654.8" textLength="45.2" lengthAdjust="spacingAndGlyphs">2</tspan><tspan class="th" x="1044.1" y="1655.1" textLength="41.7" lengthAdjust="spacingAndGlyphs">θ</tspan><tspan class="sp" x="1088" y="1654.8"> </tspan><tspan class="pa" x="1106.9" y="1654.0">(</tspan><tspan class="dg" x="1126.9" y="1658.1">°</tspan><tspan class="pa" x="1159.0" y="1654.0">)</tspan></text>
<text class="ay" transform="translate(80.1 991.7) rotate(-90)" x="0" y="0">Intensity (a.u.)</text>
</svg>
</body></html>
